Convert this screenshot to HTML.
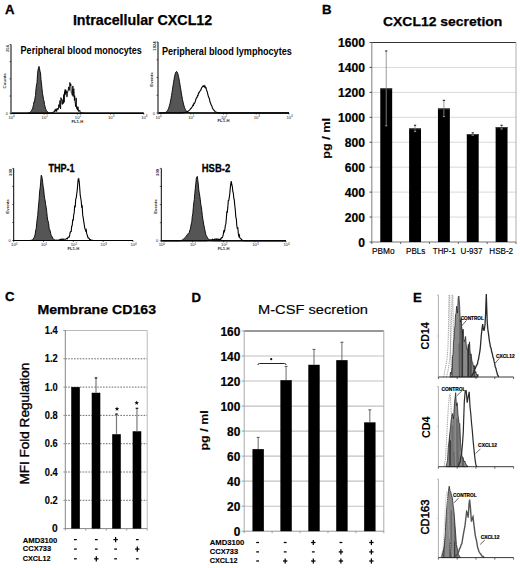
<!DOCTYPE html>
<html><head><meta charset="utf-8"><style>
html,body{margin:0;padding:0;background:#fff;}
svg{display:block;font-family:"Liberation Sans", sans-serif;}
</style></head><body>
<svg width="520" height="568" viewBox="0 0 520 568">
<rect width="520" height="568" fill="#fff"/>
<text x="5.00" y="13.50" font-size="13.2" font-weight="bold" fill="#000" stroke="#000" stroke-width="0.3">A</text>
<text x="72.90" y="24.70" font-size="14.2" font-weight="bold" fill="#000" textLength="139.30" lengthAdjust="spacingAndGlyphs" stroke="#000" stroke-width="0.25">Intracellular CXCL12</text>
<path d="M12.00,113.20 L12.50,113.20 L13.00,113.20 L13.50,113.20 L14.00,113.20 L14.50,113.20 L15.00,113.20 L15.50,113.20 L16.00,113.20 L16.50,113.20 L17.00,113.20 L17.50,113.20 L18.00,113.20 L18.50,113.20 L19.00,113.20 L19.50,113.20 L20.00,113.20 L20.50,113.20 L21.00,113.20 L21.50,113.20 L22.00,113.20 L22.50,113.20 L23.00,113.20 L23.50,113.20 L24.00,113.20 L24.50,113.20 L25.00,113.19 L25.50,113.19 L26.00,113.18 L26.50,113.17 L27.00,113.15 L27.50,113.11 L28.00,113.05 L28.50,112.96 L29.00,112.83 L29.50,112.64 L30.00,112.32 L30.50,111.72 L31.00,111.40 L31.50,110.61 L32.00,109.52 L32.50,109.00 L33.00,106.81 L33.50,104.53 L34.00,101.56 L34.50,101.76 L35.00,97.95 L35.50,95.41 L36.00,88.69 L36.50,84.86 L37.00,82.81 L37.50,74.31 L38.00,70.05 L38.50,67.97 L39.00,66.40 L39.50,68.44 L40.00,71.20 L40.50,72.89 L41.00,79.46 L41.50,83.94 L42.00,88.58 L42.50,93.85 L43.00,96.02 L43.50,99.51 L44.00,100.81 L44.50,104.58 L45.00,106.34 L45.50,108.37 L46.00,109.47 L46.50,110.76 L47.00,111.63 L47.50,111.81 L48.00,112.28 L48.50,112.71 L49.00,112.89 L49.50,113.01 L50.00,113.09 L50.50,113.13 L51.00,113.16 L51.50,113.18 L52.00,113.19 L52.50,113.19 L53.00,113.20 L53.50,113.20 L54.00,113.20 L54.50,113.20 L55.00,113.20 L55.50,113.20 L56.00,113.20 L56.50,113.20 L57.00,113.20 L57.50,113.20 L58.00,113.20 L58.50,113.20 L59.00,113.20 L59.50,113.20 L60.00,113.20 L60.50,113.20 L61.00,113.20 L61.50,113.20 L62.00,113.20 L62.50,113.20 L63.00,113.20 L63.50,113.20 L64.00,113.20 L64.50,113.20 L65.00,113.20 L65.50,113.20 L66.00,113.20 L66.50,113.20 L67.00,113.20 L67.50,113.20 L68.00,113.20 L68.50,113.20 L69.00,113.20 L69.50,113.20 L70.00,113.20 L70.50,113.20 L71.00,113.20 L71.50,113.20 L72.00,113.20 L72.50,113.20 L73.00,113.20 L73.50,113.20 L74.00,113.20 L74.50,113.20 L75.00,113.20 L75.50,113.20 L76.00,113.20 L76.50,113.20 L77.00,113.20 L77.50,113.20 L78.00,113.20 L78.50,113.20 L79.00,113.20 L79.50,113.20 L80.00,113.20 L80.50,113.20 L81.00,113.20 L81.50,113.20 L82.00,113.20 L82.50,113.20 L83.00,113.20 L83.50,113.20 L84.00,113.20 L84.50,113.20 L85.00,113.20 L85.50,113.20 L86.00,113.20 L86.50,113.20 L87.00,113.20 L87.50,113.20 L88.00,113.20 L88.50,113.20 L89.00,113.20 L89.50,113.20 L90.00,113.20 L90.50,113.20 L91.00,113.20 L91.50,113.20 L92.00,113.20 L92.50,113.20 L93.00,113.20 L93.50,113.20 L94.00,113.20 L94.50,113.20 L95.00,113.20 L95.50,113.20 L96.00,113.20 L96.50,113.20 L97.00,113.20 L97.50,113.20 L98.00,113.20 L98.50,113.20 L99.00,113.20 L99.50,113.20 L100.00,113.20 L100.50,113.20 L101.00,113.20 L101.50,113.20 L102.00,113.20 L102.50,113.20 L103.00,113.20 L103.50,113.20 L104.00,113.20 L104.50,113.20 L105.00,113.20 L105.50,113.20 L106.00,113.20 L106.50,113.20 L107.00,113.20 L107.50,113.20 L108.00,113.20 L108.50,113.20 L109.00,113.20 L109.50,113.20 L110.00,113.20 L110.50,113.20 L111.00,113.20 L111.50,113.20 L112.00,113.20 L112.50,113.20 L113.00,113.20 L113.50,113.20 L114.00,113.20 L114.50,113.20 L115.00,113.20 L115.50,113.20 L116.00,113.20 L116.50,113.20 L117.00,113.20 L117.50,113.20 L118.00,113.20 L118.50,113.20 L119.00,113.20 L119.50,113.20 L120.00,113.20 L120.50,113.20 L121.00,113.20 L121.50,113.20 L122.00,113.20 L122.50,113.20 L123.00,113.20 L123.50,113.20 L124.00,113.20 L124.50,113.20 L125.00,113.20 L125.50,113.20 L126.00,113.20 L126.50,113.20 L127.00,113.20 L127.50,113.20 L128.00,113.20 L128.50,113.20 L129.00,113.20 L129.50,113.20 L130.00,113.20 L130.50,113.20 L131.00,113.20 L131.50,113.20 L132.00,113.20 L132.50,113.20 L133.00,113.20 L133.50,113.20 L134.00,113.20 L134.50,113.20 L135.00,113.20 L135.50,113.20 L136.00,113.20 L136.50,113.20 L137.00,113.20 L137.50,113.20 L138.00,113.20 L138.50,113.20 L139.00,113.20 L139.50,113.20 L140.00,113.20 L140.50,113.20 L141.00,113.20 L141.50,113.20 L142.00,113.20 L142.50,113.20 L143.00,113.20 L143.50,113.20 L143.50,113.20 L12.00,113.20 Z" fill="#555" stroke="#000" stroke-width="0.9"/>
<path d="M12.00,113.20 L12.30,113.20 L12.60,113.20 L12.90,113.20 L13.20,113.20 L13.50,113.20 L13.80,113.20 L14.10,113.20 L14.40,113.20 L14.70,113.20 L15.00,113.20 L15.30,113.20 L15.60,113.20 L15.90,113.20 L16.20,113.20 L16.50,113.20 L16.80,113.20 L17.10,113.20 L17.40,113.20 L17.70,113.20 L18.00,113.20 L18.30,113.20 L18.60,113.20 L18.90,113.20 L19.20,113.20 L19.50,113.20 L19.80,113.20 L20.10,113.20 L20.40,113.20 L20.70,113.20 L21.00,113.20 L21.30,113.20 L21.60,113.20 L21.90,113.20 L22.20,113.20 L22.50,113.20 L22.80,113.20 L23.10,113.20 L23.40,113.20 L23.70,113.20 L24.00,113.20 L24.30,113.20 L24.60,113.20 L24.90,113.20 L25.20,113.20 L25.50,113.20 L25.80,113.20 L26.10,113.20 L26.40,113.20 L26.70,113.20 L27.00,113.20 L27.30,113.20 L27.60,113.20 L27.90,113.20 L28.20,113.20 L28.50,113.20 L28.80,113.20 L29.10,113.20 L29.40,113.20 L29.70,113.20 L30.00,113.20 L30.30,113.20 L30.60,113.20 L30.90,113.20 L31.20,113.20 L31.50,113.20 L31.80,113.20 L32.10,113.20 L32.40,113.20 L32.70,113.20 L33.00,113.20 L33.30,113.20 L33.60,113.20 L33.90,113.20 L34.20,113.20 L34.50,113.20 L34.80,113.20 L35.10,113.20 L35.40,113.20 L35.70,113.20 L36.00,113.20 L36.30,113.20 L36.60,113.20 L36.90,113.20 L37.20,113.20 L37.50,113.20 L37.80,113.20 L38.10,113.20 L38.40,113.20 L38.70,113.20 L39.00,113.20 L39.30,113.20 L39.60,113.20 L39.90,113.20 L40.20,113.20 L40.50,113.20 L40.80,113.20 L41.10,113.19 L41.40,113.19 L41.70,113.19 L42.00,113.19 L42.30,113.19 L42.60,113.19 L42.90,113.19 L43.20,113.18 L43.50,113.18 L43.80,113.18 L44.10,113.17 L44.40,113.17 L44.70,113.16 L45.00,113.16 L45.30,113.15 L45.60,113.14 L45.90,113.14 L46.20,113.13 L46.50,113.11 L46.80,113.10 L47.10,113.09 L47.40,113.07 L47.70,113.05 L48.00,113.03 L48.30,113.01 L48.60,112.98 L48.90,112.95 L49.20,112.92 L49.50,112.88 L49.80,112.84 L50.10,112.79 L50.40,112.74 L50.70,112.77 L51.00,112.63 L51.30,112.61 L51.60,112.52 L51.90,112.47 L52.20,112.12 L52.50,112.48 L52.80,111.90 L53.10,112.69 L53.40,112.15 L53.70,111.98 L54.00,112.24 L54.30,110.82 L54.60,111.63 L54.90,110.20 L55.20,109.43 L55.50,111.32 L55.80,108.91 L56.10,108.86 L56.40,109.06 L56.70,111.58 L57.00,109.35 L57.30,108.13 L57.60,109.61 L57.90,109.77 L58.20,108.94 L58.50,108.99 L58.80,104.65 L59.10,107.63 L59.40,106.59 L59.70,104.10 L60.00,100.47 L60.30,106.58 L60.60,108.97 L60.90,97.66 L61.20,98.73 L61.50,98.64 L61.80,101.24 L62.10,104.09 L62.40,104.43 L62.70,102.01 L63.00,99.49 L63.30,103.59 L63.60,95.34 L63.90,94.35 L64.20,102.29 L64.50,91.70 L64.80,95.28 L65.10,89.53 L65.40,94.25 L65.70,89.81 L66.00,93.33 L66.30,90.87 L66.60,91.70 L66.90,96.91 L67.20,94.97 L67.50,93.46 L67.80,90.95 L68.10,91.00 L68.40,88.61 L68.70,86.85 L69.00,89.68 L69.30,90.41 L69.60,87.92 L69.90,82.47 L70.20,84.39 L70.50,85.86 L70.80,83.90 L71.10,91.04 L71.40,92.77 L71.70,93.22 L72.00,93.36 L72.30,95.32 L72.60,88.65 L72.90,85.96 L73.20,96.54 L73.50,90.65 L73.80,88.66 L74.10,91.87 L74.40,100.35 L74.70,95.69 L75.00,101.44 L75.30,103.52 L75.60,106.65 L75.90,101.58 L76.20,97.92 L76.50,108.35 L76.80,108.43 L77.10,106.81 L77.40,110.28 L77.70,107.69 L78.00,106.76 L78.30,109.01 L78.60,111.50 L78.90,111.77 L79.20,111.41 L79.50,110.32 L79.80,110.14 L80.10,111.49 L80.40,112.45 L80.70,112.41 L81.00,112.31 L81.30,112.77 L81.60,112.84 L81.90,112.70 L82.20,112.76 L82.50,112.85 L82.80,112.92 L83.10,112.97 L83.40,113.02 L83.70,113.06 L84.00,113.09 L84.30,113.11 L84.60,113.13 L84.90,113.15 L85.20,113.16 L85.50,113.17 L85.80,113.18 L86.10,113.18 L86.40,113.19 L86.70,113.19 L87.00,113.19 L87.30,113.19 L87.60,113.20 L87.90,113.20 L88.20,113.20 L88.50,113.20 L88.80,113.20 L89.10,113.20 L89.40,113.20 L89.70,113.20 L90.00,113.20 L90.30,113.20 L90.60,113.20 L90.90,113.20 L91.20,113.20 L91.50,113.20 L91.80,113.20 L92.10,113.20 L92.40,113.20 L92.70,113.20 L93.00,113.20 L93.30,113.20 L93.60,113.20 L93.90,113.20 L94.20,113.20 L94.50,113.20 L94.80,113.20 L95.10,113.20 L95.40,113.20 L95.70,113.20 L96.00,113.20 L96.30,113.20 L96.60,113.20 L96.90,113.20 L97.20,113.20 L97.50,113.20 L97.80,113.20 L98.10,113.20 L98.40,113.20 L98.70,113.20 L99.00,113.20 L99.30,113.20 L99.60,113.20 L99.90,113.20 L100.20,113.20 L100.50,113.20 L100.80,113.20 L101.10,113.20 L101.40,113.20 L101.70,113.20 L102.00,113.20 L102.30,113.20 L102.60,113.20 L102.90,113.20 L103.20,113.20 L103.50,113.20 L103.80,113.20 L104.10,113.20 L104.40,113.20 L104.70,113.20 L105.00,113.20 L105.30,113.20 L105.60,113.20 L105.90,113.20 L106.20,113.20 L106.50,113.20 L106.80,113.20 L107.10,113.20 L107.40,113.20 L107.70,113.20 L108.00,113.20 L108.30,113.20 L108.60,113.20 L108.90,113.20 L109.20,113.20 L109.50,113.20 L109.80,113.20 L110.10,113.20 L110.40,113.20 L110.70,113.20 L111.00,113.20 L111.30,113.20 L111.60,113.20 L111.90,113.20 L112.20,113.20 L112.50,113.20 L112.80,113.20 L113.10,113.20 L113.40,113.20 L113.70,113.20 L114.00,113.20 L114.30,113.20 L114.60,113.20 L114.90,113.20 L115.20,113.20 L115.50,113.20 L115.80,113.20 L116.10,113.20 L116.40,113.20 L116.70,113.20 L117.00,113.20 L117.30,113.20 L117.60,113.20 L117.90,113.20 L118.20,113.20 L118.50,113.20 L118.80,113.20 L119.10,113.20 L119.40,113.20 L119.70,113.20 L120.00,113.20 L120.30,113.20 L120.60,113.20 L120.90,113.20 L121.20,113.20 L121.50,113.20 L121.80,113.20 L122.10,113.20 L122.40,113.20 L122.70,113.20 L123.00,113.20 L123.30,113.20 L123.60,113.20 L123.90,113.20 L124.20,113.20 L124.50,113.20 L124.80,113.20 L125.10,113.20 L125.40,113.20 L125.70,113.20 L126.00,113.20 L126.30,113.20 L126.60,113.20 L126.90,113.20 L127.20,113.20 L127.50,113.20 L127.80,113.20 L128.10,113.20 L128.40,113.20 L128.70,113.20 L129.00,113.20 L129.30,113.20 L129.60,113.20 L129.90,113.20 L130.20,113.20 L130.50,113.20 L130.80,113.20 L131.10,113.20 L131.40,113.20 L131.70,113.20 L132.00,113.20 L132.30,113.20 L132.60,113.20 L132.90,113.20 L133.20,113.20 L133.50,113.20 L133.80,113.20 L134.10,113.20 L134.40,113.20 L134.70,113.20 L135.00,113.20 L135.30,113.20 L135.60,113.20 L135.90,113.20 L136.20,113.20 L136.50,113.20 L136.80,113.20 L137.10,113.20 L137.40,113.20 L137.70,113.20 L138.00,113.20 L138.30,113.20 L138.60,113.20 L138.90,113.20 L139.20,113.20 L139.50,113.20 L139.80,113.20 L140.10,113.20 L140.40,113.20 L140.70,113.20 L141.00,113.20 L141.30,113.20 L141.60,113.20 L141.90,113.20 L142.20,113.20 L142.50,113.20 L142.80,113.20 L143.10,113.20 L143.40,113.20 L143.70,113.20" fill="none" stroke="#000" stroke-width="0.9"/>
<line x1="11.00" y1="44.50" x2="11.00" y2="113.70" stroke="#000" stroke-width="1" />
<line x1="11.00" y1="113.20" x2="143.80" y2="113.20" stroke="#000" stroke-width="1.05" />
<line x1="9.50" y1="113.20" x2="11.00" y2="113.20" stroke="#000" stroke-width="0.6" />
<line x1="9.50" y1="96.03" x2="11.00" y2="96.03" stroke="#000" stroke-width="0.6" />
<line x1="9.50" y1="78.85" x2="11.00" y2="78.85" stroke="#000" stroke-width="0.6" />
<line x1="9.50" y1="61.67" x2="11.00" y2="61.67" stroke="#000" stroke-width="0.6" />
<line x1="9.50" y1="44.50" x2="11.00" y2="44.50" stroke="#000" stroke-width="0.6" />
<line x1="11.00" y1="113.20" x2="11.00" y2="114.70" stroke="#000" stroke-width="0.6" />
<text x="8.40" y="118.80" font-size="4.2" fill="#222">10<tspan font-size="3" dy="-1.6">0</tspan></text>
<line x1="44.20" y1="113.20" x2="44.20" y2="114.70" stroke="#000" stroke-width="0.6" />
<text x="41.60" y="118.80" font-size="4.2" fill="#222">10<tspan font-size="3" dy="-1.6">1</tspan></text>
<line x1="77.40" y1="113.20" x2="77.40" y2="114.70" stroke="#000" stroke-width="0.6" />
<text x="74.80" y="118.80" font-size="4.2" fill="#222">10<tspan font-size="3" dy="-1.6">2</tspan></text>
<line x1="110.60" y1="113.20" x2="110.60" y2="114.70" stroke="#000" stroke-width="0.6" />
<text x="108.00" y="118.80" font-size="4.2" fill="#222">10<tspan font-size="3" dy="-1.6">3</tspan></text>
<line x1="143.80" y1="113.20" x2="143.80" y2="114.70" stroke="#000" stroke-width="0.6" />
<text x="141.20" y="118.80" font-size="4.2" fill="#222">10<tspan font-size="3" dy="-1.6">4</tspan></text>
<text x="77.40" y="122.60" font-size="4.2" font-weight="bold" fill="#222" text-anchor="middle" >FL1-H</text>
<text x="9.00" y="48.50" font-size="4.2" font-weight="bold" fill="#333" text-anchor="middle" transform="rotate(-90 9.00 48.50)" >256</text>
<text x="6.40" y="80.85" font-size="4.4" font-weight="bold" fill="#333" text-anchor="middle" transform="rotate(-90 6.40 80.85)" >Counts</text>
<text x="6.80" y="114.70" font-size="4" font-weight="normal" fill="#222" text-anchor="middle" >0</text>
<text x="20.60" y="53.70" font-size="11.5" font-weight="bold" fill="#000" textLength="121.30" lengthAdjust="spacingAndGlyphs" >Peripheral blood monocytes</text>
<path d="M159.00,113.00 L159.50,113.00 L160.00,113.00 L160.50,112.99 L161.00,112.99 L161.50,112.98 L162.00,112.97 L162.50,112.95 L163.00,112.92 L163.50,112.88 L164.00,112.81 L164.50,112.72 L165.00,112.57 L165.50,112.37 L166.00,112.09 L166.50,111.70 L167.00,111.18 L167.50,110.49 L168.00,109.60 L168.50,108.47 L169.00,107.08 L169.50,105.39 L170.00,103.39 L170.50,101.07 L171.00,98.44 L171.50,95.54 L172.00,92.42 L172.50,89.15 L173.00,85.85 L173.50,82.61 L174.00,79.58 L174.50,76.87 L175.00,74.61 L175.50,72.91 L176.00,71.86 L176.50,71.50 L177.00,71.82 L177.50,72.78 L178.00,74.32 L178.50,76.38 L179.00,78.86 L179.50,81.67 L180.00,84.70 L180.50,87.83 L181.00,90.96 L181.50,94.00 L182.00,96.87 L182.50,99.53 L183.00,101.92 L183.50,104.02 L184.00,105.84 L184.50,107.38 L185.00,108.66 L185.50,109.70 L186.00,110.53 L186.50,111.18 L187.00,111.68 L187.50,112.05 L188.00,112.33 L188.50,112.54 L189.00,112.69 L189.50,112.79 L190.00,112.86 L190.50,112.91 L191.00,112.94 L191.50,112.96 L192.00,112.98 L192.50,112.99 L193.00,112.99 L193.50,113.00 L194.00,113.00 L194.50,113.00 L195.00,113.00 L195.50,113.00 L196.00,113.00 L196.50,113.00 L197.00,113.00 L197.50,113.00 L198.00,113.00 L198.50,113.00 L199.00,113.00 L199.50,113.00 L200.00,113.00 L200.50,113.00 L201.00,113.00 L201.50,113.00 L202.00,113.00 L202.50,113.00 L203.00,113.00 L203.50,113.00 L204.00,113.00 L204.50,113.00 L205.00,113.00 L205.50,113.00 L206.00,113.00 L206.50,113.00 L207.00,113.00 L207.50,113.00 L208.00,113.00 L208.50,113.00 L209.00,113.00 L209.50,113.00 L210.00,113.00 L210.50,113.00 L211.00,113.00 L211.50,113.00 L212.00,113.00 L212.50,113.00 L213.00,113.00 L213.50,113.00 L214.00,113.00 L214.50,113.00 L215.00,113.00 L215.50,113.00 L216.00,113.00 L216.50,113.00 L217.00,113.00 L217.50,113.00 L218.00,113.00 L218.50,113.00 L219.00,113.00 L219.50,113.00 L220.00,113.00 L220.50,113.00 L221.00,113.00 L221.50,113.00 L222.00,113.00 L222.50,113.00 L223.00,113.00 L223.50,113.00 L224.00,113.00 L224.50,113.00 L225.00,113.00 L225.50,113.00 L226.00,113.00 L226.50,113.00 L227.00,113.00 L227.50,113.00 L228.00,113.00 L228.50,113.00 L229.00,113.00 L229.50,113.00 L230.00,113.00 L230.50,113.00 L231.00,113.00 L231.50,113.00 L232.00,113.00 L232.50,113.00 L233.00,113.00 L233.50,113.00 L234.00,113.00 L234.50,113.00 L235.00,113.00 L235.50,113.00 L236.00,113.00 L236.50,113.00 L237.00,113.00 L237.50,113.00 L238.00,113.00 L238.50,113.00 L239.00,113.00 L239.50,113.00 L240.00,113.00 L240.50,113.00 L241.00,113.00 L241.50,113.00 L242.00,113.00 L242.50,113.00 L243.00,113.00 L243.50,113.00 L244.00,113.00 L244.50,113.00 L245.00,113.00 L245.50,113.00 L246.00,113.00 L246.50,113.00 L247.00,113.00 L247.50,113.00 L248.00,113.00 L248.50,113.00 L249.00,113.00 L249.50,113.00 L250.00,113.00 L250.50,113.00 L251.00,113.00 L251.50,113.00 L252.00,113.00 L252.50,113.00 L253.00,113.00 L253.50,113.00 L254.00,113.00 L254.50,113.00 L255.00,113.00 L255.50,113.00 L256.00,113.00 L256.50,113.00 L257.00,113.00 L257.50,113.00 L258.00,113.00 L258.50,113.00 L259.00,113.00 L259.50,113.00 L260.00,113.00 L260.50,113.00 L261.00,113.00 L261.50,113.00 L262.00,113.00 L262.50,113.00 L263.00,113.00 L263.50,113.00 L264.00,113.00 L264.50,113.00 L265.00,113.00 L265.50,113.00 L266.00,113.00 L266.50,113.00 L267.00,113.00 L267.50,113.00 L268.00,113.00 L268.50,113.00 L269.00,113.00 L269.50,113.00 L270.00,113.00 L270.50,113.00 L271.00,113.00 L271.50,113.00 L272.00,113.00 L272.50,113.00 L273.00,113.00 L273.50,113.00 L274.00,113.00 L274.50,113.00 L275.00,113.00 L275.50,113.00 L276.00,113.00 L276.50,113.00 L277.00,113.00 L277.50,113.00 L278.00,113.00 L278.50,113.00 L279.00,113.00 L279.50,113.00 L280.00,113.00 L280.50,113.00 L281.00,113.00 L281.50,113.00 L282.00,113.00 L282.50,113.00 L283.00,113.00 L283.50,113.00 L284.00,113.00 L284.50,113.00 L285.00,113.00 L285.50,113.00 L286.00,113.00 L286.50,113.00 L287.00,113.00 L287.50,113.00 L288.00,113.00 L288.50,113.00 L289.00,113.00 L289.00,113.00 L159.00,113.00 Z" fill="#555" stroke="#000" stroke-width="0.9"/>
<path d="M159.00,113.00 L159.50,113.00 L160.00,113.00 L160.50,113.00 L161.00,113.00 L161.50,113.00 L162.00,113.00 L162.50,113.00 L163.00,113.00 L163.50,113.00 L164.00,113.00 L164.50,113.00 L165.00,113.00 L165.50,113.00 L166.00,113.00 L166.50,113.00 L167.00,113.00 L167.50,113.00 L168.00,113.00 L168.50,113.00 L169.00,113.00 L169.50,113.00 L170.00,113.00 L170.50,113.00 L171.00,113.00 L171.50,113.00 L172.00,113.00 L172.50,113.00 L173.00,113.00 L173.50,113.00 L174.00,113.00 L174.50,113.00 L175.00,113.00 L175.50,113.00 L176.00,112.99 L176.50,112.99 L177.00,112.99 L177.50,112.98 L178.00,112.98 L178.50,112.97 L179.00,112.96 L179.50,112.95 L180.00,112.94 L180.50,112.92 L181.00,112.90 L181.50,112.87 L182.00,112.84 L182.50,112.80 L183.00,112.75 L183.50,112.69 L184.00,112.62 L184.50,112.53 L185.00,112.40 L185.50,112.33 L186.00,112.18 L186.50,111.95 L187.00,111.85 L187.50,111.46 L188.00,111.17 L188.50,111.08 L189.00,110.49 L189.50,110.15 L190.00,109.62 L190.50,108.89 L191.00,108.25 L191.50,108.03 L192.00,106.95 L192.50,106.20 L193.00,105.13 L193.50,105.41 L194.00,103.21 L194.50,103.30 L195.00,102.40 L195.50,100.56 L196.00,99.05 L196.50,97.71 L197.00,97.49 L197.50,95.58 L198.00,95.69 L198.50,93.04 L199.00,93.01 L199.50,91.55 L200.00,91.22 L200.50,90.43 L201.00,89.65 L201.50,87.97 L202.00,87.41 L202.50,86.50 L203.00,86.08 L203.50,86.52 L204.00,85.75 L204.50,86.88 L205.00,86.20 L205.50,87.91 L206.00,87.78 L206.50,89.88 L207.00,91.23 L207.50,92.65 L208.00,95.07 L208.50,96.78 L209.00,97.79 L209.50,99.25 L210.00,102.00 L210.50,103.01 L211.00,104.51 L211.50,105.35 L212.00,106.41 L212.50,108.29 L213.00,108.86 L213.50,109.90 L214.00,110.25 L214.50,110.78 L215.00,111.34 L215.50,111.75 L216.00,112.13 L216.50,112.34 L217.00,112.50 L217.50,112.62 L218.00,112.72 L218.50,112.80 L219.00,112.86 L219.50,112.90 L220.00,112.93 L220.50,112.95 L221.00,112.97 L221.50,112.98 L222.00,112.99 L222.50,112.99 L223.00,112.99 L223.50,113.00 L224.00,113.00 L224.50,113.00 L225.00,113.00 L225.50,113.00 L226.00,113.00 L226.50,113.00 L227.00,113.00 L227.50,113.00 L228.00,113.00 L228.50,113.00 L229.00,113.00 L229.50,113.00 L230.00,113.00 L230.50,113.00 L231.00,113.00 L231.50,113.00 L232.00,113.00 L232.50,113.00 L233.00,113.00 L233.50,113.00 L234.00,113.00 L234.50,113.00 L235.00,113.00 L235.50,113.00 L236.00,113.00 L236.50,113.00 L237.00,113.00 L237.50,113.00 L238.00,113.00 L238.50,113.00 L239.00,113.00 L239.50,113.00 L240.00,113.00 L240.50,113.00 L241.00,113.00 L241.50,113.00 L242.00,113.00 L242.50,113.00 L243.00,113.00 L243.50,113.00 L244.00,113.00 L244.50,113.00 L245.00,113.00 L245.50,113.00 L246.00,113.00 L246.50,113.00 L247.00,113.00 L247.50,113.00 L248.00,113.00 L248.50,113.00 L249.00,113.00 L249.50,113.00 L250.00,113.00 L250.50,113.00 L251.00,113.00 L251.50,113.00 L252.00,113.00 L252.50,113.00 L253.00,113.00 L253.50,113.00 L254.00,113.00 L254.50,113.00 L255.00,113.00 L255.50,113.00 L256.00,113.00 L256.50,113.00 L257.00,113.00 L257.50,113.00 L258.00,113.00 L258.50,113.00 L259.00,113.00 L259.50,113.00 L260.00,113.00 L260.50,113.00 L261.00,113.00 L261.50,113.00 L262.00,113.00 L262.50,113.00 L263.00,113.00 L263.50,113.00 L264.00,113.00 L264.50,113.00 L265.00,113.00 L265.50,113.00 L266.00,113.00 L266.50,113.00 L267.00,113.00 L267.50,113.00 L268.00,113.00 L268.50,113.00 L269.00,113.00 L269.50,113.00 L270.00,113.00 L270.50,113.00 L271.00,113.00 L271.50,113.00 L272.00,113.00 L272.50,113.00 L273.00,113.00 L273.50,113.00 L274.00,113.00 L274.50,113.00 L275.00,113.00 L275.50,113.00 L276.00,113.00 L276.50,113.00 L277.00,113.00 L277.50,113.00 L278.00,113.00 L278.50,113.00 L279.00,113.00 L279.50,113.00 L280.00,113.00 L280.50,113.00 L281.00,113.00 L281.50,113.00 L282.00,113.00 L282.50,113.00 L283.00,113.00 L283.50,113.00 L284.00,113.00 L284.50,113.00 L285.00,113.00 L285.50,113.00 L286.00,113.00 L286.50,113.00 L287.00,113.00 L287.50,113.00 L288.00,113.00 L288.50,113.00 L289.00,113.00" fill="none" stroke="#000" stroke-width="1.1"/>
<line x1="158.00" y1="42.00" x2="158.00" y2="113.50" stroke="#000" stroke-width="1" />
<line x1="158.00" y1="113.00" x2="289.00" y2="113.00" stroke="#000" stroke-width="1.05" />
<line x1="156.50" y1="113.00" x2="158.00" y2="113.00" stroke="#000" stroke-width="0.6" />
<line x1="156.50" y1="95.25" x2="158.00" y2="95.25" stroke="#000" stroke-width="0.6" />
<line x1="156.50" y1="77.50" x2="158.00" y2="77.50" stroke="#000" stroke-width="0.6" />
<line x1="156.50" y1="59.75" x2="158.00" y2="59.75" stroke="#000" stroke-width="0.6" />
<line x1="156.50" y1="42.00" x2="158.00" y2="42.00" stroke="#000" stroke-width="0.6" />
<line x1="158.00" y1="113.00" x2="158.00" y2="114.50" stroke="#000" stroke-width="0.6" />
<text x="155.40" y="118.60" font-size="4.2" fill="#222">10<tspan font-size="3" dy="-1.6">0</tspan></text>
<line x1="190.75" y1="113.00" x2="190.75" y2="114.50" stroke="#000" stroke-width="0.6" />
<text x="188.15" y="118.60" font-size="4.2" fill="#222">10<tspan font-size="3" dy="-1.6">1</tspan></text>
<line x1="223.50" y1="113.00" x2="223.50" y2="114.50" stroke="#000" stroke-width="0.6" />
<text x="220.90" y="118.60" font-size="4.2" fill="#222">10<tspan font-size="3" dy="-1.6">2</tspan></text>
<line x1="256.25" y1="113.00" x2="256.25" y2="114.50" stroke="#000" stroke-width="0.6" />
<text x="253.65" y="118.60" font-size="4.2" fill="#222">10<tspan font-size="3" dy="-1.6">3</tspan></text>
<line x1="289.00" y1="113.00" x2="289.00" y2="114.50" stroke="#000" stroke-width="0.6" />
<text x="286.40" y="118.60" font-size="4.2" fill="#222">10<tspan font-size="3" dy="-1.6">4</tspan></text>
<text x="223.50" y="122.40" font-size="4.2" font-weight="bold" fill="#222" text-anchor="middle" >FL1-H</text>
<text x="156.00" y="46.00" font-size="4.2" font-weight="bold" fill="#333" text-anchor="middle" transform="rotate(-90 156.00 46.00)" >1024</text>
<text x="153.40" y="79.50" font-size="4.4" font-weight="bold" fill="#333" text-anchor="middle" transform="rotate(-90 153.40 79.50)" >Events</text>
<text x="153.80" y="114.50" font-size="4" font-weight="normal" fill="#222" text-anchor="middle" >0</text>
<text x="162.00" y="54.80" font-size="11.5" font-weight="bold" fill="#000" textLength="129.80" lengthAdjust="spacingAndGlyphs" >Peripheral blood lymphocytes</text>
<path d="M14.70,240.50 L15.20,240.50 L15.70,240.50 L16.20,240.50 L16.70,240.50 L17.20,240.50 L17.70,240.50 L18.20,240.50 L18.70,240.50 L19.20,240.50 L19.70,240.50 L20.20,240.50 L20.70,240.50 L21.20,240.50 L21.70,240.50 L22.20,240.50 L22.70,240.50 L23.20,240.50 L23.70,240.50 L24.20,240.50 L24.70,240.50 L25.20,240.50 L25.70,240.50 L26.20,240.50 L26.70,240.50 L27.20,240.50 L27.70,240.50 L28.20,240.49 L28.70,240.49 L29.20,240.48 L29.70,240.46 L30.20,240.43 L30.70,240.37 L31.20,240.28 L31.70,240.13 L32.20,239.98 L32.70,239.64 L33.20,239.02 L33.70,238.05 L34.20,237.44 L34.70,236.12 L35.20,234.09 L35.70,230.21 L36.20,228.80 L36.70,223.19 L37.20,219.00 L37.70,215.64 L38.20,209.15 L38.70,203.93 L39.20,198.43 L39.70,190.90 L40.20,187.60 L40.70,182.07 L41.20,175.21 L41.70,175.90 L42.20,178.71 L42.70,182.47 L43.20,186.91 L43.70,189.23 L44.20,195.09 L44.70,198.55 L45.20,201.01 L45.70,204.78 L46.20,207.26 L46.70,211.27 L47.20,216.28 L47.70,220.10 L48.20,221.34 L48.70,223.74 L49.20,229.19 L49.70,229.34 L50.20,231.08 L50.70,233.39 L51.20,235.57 L51.70,235.91 L52.20,237.02 L52.70,238.24 L53.20,238.55 L53.70,239.22 L54.20,239.62 L54.70,239.79 L55.20,239.99 L55.70,240.12 L56.20,240.24 L56.70,240.32 L57.20,240.37 L57.70,240.42 L58.20,240.44 L58.70,240.46 L59.20,240.48 L59.70,240.48 L60.20,240.49 L60.70,240.49 L61.20,240.50 L61.70,240.50 L62.20,240.50 L62.70,240.50 L63.20,240.50 L63.70,240.50 L64.20,240.50 L64.70,240.50 L65.20,240.50 L65.70,240.50 L66.20,240.50 L66.70,240.50 L67.20,240.50 L67.70,240.50 L68.20,240.50 L68.70,240.50 L69.20,240.50 L69.70,240.50 L70.20,240.50 L70.70,240.50 L71.20,240.50 L71.70,240.50 L72.20,240.50 L72.70,240.50 L73.20,240.50 L73.70,240.50 L74.20,240.50 L74.70,240.50 L75.20,240.50 L75.70,240.50 L76.20,240.50 L76.70,240.50 L77.20,240.50 L77.70,240.50 L78.20,240.50 L78.70,240.50 L79.20,240.50 L79.70,240.50 L80.20,240.50 L80.70,240.50 L81.20,240.50 L81.70,240.50 L82.20,240.50 L82.70,240.50 L83.20,240.50 L83.70,240.50 L84.20,240.50 L84.70,240.50 L85.20,240.50 L85.70,240.50 L86.20,240.50 L86.70,240.50 L87.20,240.50 L87.70,240.50 L88.20,240.50 L88.70,240.50 L89.20,240.50 L89.70,240.50 L90.20,240.50 L90.70,240.50 L91.20,240.50 L91.70,240.50 L92.20,240.50 L92.70,240.50 L93.20,240.50 L93.70,240.50 L94.20,240.50 L94.70,240.50 L95.20,240.50 L95.70,240.50 L96.20,240.50 L96.70,240.50 L97.20,240.50 L97.70,240.50 L98.20,240.50 L98.70,240.50 L99.20,240.50 L99.70,240.50 L100.20,240.50 L100.70,240.50 L101.20,240.50 L101.70,240.50 L102.20,240.50 L102.70,240.50 L103.20,240.50 L103.70,240.50 L104.20,240.50 L104.70,240.50 L105.20,240.50 L105.70,240.50 L106.20,240.50 L106.70,240.50 L107.20,240.50 L107.70,240.50 L108.20,240.50 L108.70,240.50 L109.20,240.50 L109.70,240.50 L110.20,240.50 L110.70,240.50 L111.20,240.50 L111.70,240.50 L112.20,240.50 L112.70,240.50 L113.20,240.50 L113.70,240.50 L114.20,240.50 L114.70,240.50 L115.20,240.50 L115.70,240.50 L116.20,240.50 L116.70,240.50 L117.20,240.50 L117.70,240.50 L118.20,240.50 L118.70,240.50 L119.20,240.50 L119.70,240.50 L120.20,240.50 L120.70,240.50 L121.20,240.50 L121.70,240.50 L122.20,240.50 L122.70,240.50 L123.20,240.50 L123.70,240.50 L124.20,240.50 L124.70,240.50 L125.20,240.50 L125.70,240.50 L126.20,240.50 L126.70,240.50 L127.20,240.50 L127.70,240.50 L128.20,240.50 L128.70,240.50 L129.20,240.50 L129.70,240.50 L130.20,240.50 L130.70,240.50 L131.20,240.50 L131.70,240.50 L132.20,240.50 L132.70,240.50 L132.70,240.50 L14.70,240.50 Z" fill="#555" stroke="#000" stroke-width="0.9"/>
<path d="M14.70,240.50 L15.20,240.50 L15.70,240.50 L16.20,240.50 L16.70,240.50 L17.20,240.50 L17.70,240.50 L18.20,240.50 L18.70,240.50 L19.20,240.50 L19.70,240.50 L20.20,240.50 L20.70,240.50 L21.20,240.50 L21.70,240.50 L22.20,240.50 L22.70,240.50 L23.20,240.50 L23.70,240.50 L24.20,240.50 L24.70,240.50 L25.20,240.50 L25.70,240.50 L26.20,240.50 L26.70,240.50 L27.20,240.50 L27.70,240.50 L28.20,240.50 L28.70,240.50 L29.20,240.50 L29.70,240.50 L30.20,240.50 L30.70,240.50 L31.20,240.50 L31.70,240.50 L32.20,240.50 L32.70,240.50 L33.20,240.50 L33.70,240.50 L34.20,240.50 L34.70,240.50 L35.20,240.50 L35.70,240.50 L36.20,240.50 L36.70,240.50 L37.20,240.50 L37.70,240.50 L38.20,240.50 L38.70,240.50 L39.20,240.50 L39.70,240.50 L40.20,240.50 L40.70,240.50 L41.20,240.50 L41.70,240.50 L42.20,240.50 L42.70,240.50 L43.20,240.50 L43.70,240.50 L44.20,240.50 L44.70,240.50 L45.20,240.50 L45.70,240.50 L46.20,240.50 L46.70,240.50 L47.20,240.50 L47.70,240.50 L48.20,240.50 L48.70,240.50 L49.20,240.50 L49.70,240.50 L50.20,240.50 L50.70,240.50 L51.20,240.50 L51.70,240.50 L52.20,240.50 L52.70,240.50 L53.20,240.49 L53.70,240.49 L54.20,240.48 L54.70,240.47 L55.20,240.46 L55.70,240.44 L56.20,240.41 L56.70,240.37 L57.20,240.31 L57.70,240.25 L58.20,240.17 L58.70,240.07 L59.20,240.02 L59.70,239.65 L60.20,239.50 L60.70,239.37 L61.20,239.31 L61.70,239.14 L62.20,239.67 L62.70,239.17 L63.20,239.43 L63.70,239.05 L64.20,239.29 L64.70,239.20 L65.20,239.21 L65.70,239.15 L66.20,238.86 L66.70,238.53 L67.20,238.87 L67.70,237.92 L68.20,237.13 L68.70,237.26 L69.20,237.09 L69.70,234.91 L70.20,232.32 L70.70,231.57 L71.20,231.55 L71.70,226.08 L72.20,225.73 L72.70,219.46 L73.20,220.65 L73.70,214.80 L74.20,212.66 L74.70,205.63 L75.20,207.23 L75.70,199.20 L76.20,198.11 L76.70,194.07 L77.20,190.46 L77.70,184.57 L78.20,179.35 L78.70,178.79 L79.20,181.58 L79.70,187.75 L80.20,194.81 L80.70,197.77 L81.20,201.01 L81.70,206.86 L82.20,206.26 L82.70,215.14 L83.20,217.62 L83.70,221.08 L84.20,224.38 L84.70,227.86 L85.20,229.39 L85.70,230.88 L86.20,229.91 L86.70,233.65 L87.20,234.87 L87.70,236.82 L88.20,238.02 L88.70,238.09 L89.20,238.54 L89.70,239.55 L90.20,239.51 L90.70,239.97 L91.20,240.05 L91.70,240.19 L92.20,240.29 L92.70,240.36 L93.20,240.41 L93.70,240.44 L94.20,240.46 L94.70,240.47 L95.20,240.48 L95.70,240.49 L96.20,240.49 L96.70,240.50 L97.20,240.50 L97.70,240.50 L98.20,240.50 L98.70,240.50 L99.20,240.50 L99.70,240.50 L100.20,240.50 L100.70,240.50 L101.20,240.50 L101.70,240.50 L102.20,240.50 L102.70,240.50 L103.20,240.50 L103.70,240.50 L104.20,240.50 L104.70,240.50 L105.20,240.50 L105.70,240.50 L106.20,240.50 L106.70,240.50 L107.20,240.50 L107.70,240.50 L108.20,240.50 L108.70,240.50 L109.20,240.50 L109.70,240.50 L110.20,240.50 L110.70,240.50 L111.20,240.50 L111.70,240.50 L112.20,240.50 L112.70,240.50 L113.20,240.50 L113.70,240.50 L114.20,240.50 L114.70,240.50 L115.20,240.50 L115.70,240.50 L116.20,240.50 L116.70,240.50 L117.20,240.50 L117.70,240.50 L118.20,240.50 L118.70,240.50 L119.20,240.50 L119.70,240.50 L120.20,240.50 L120.70,240.50 L121.20,240.50 L121.70,240.50 L122.20,240.50 L122.70,240.50 L123.20,240.50 L123.70,240.50 L124.20,240.50 L124.70,240.50 L125.20,240.50 L125.70,240.50 L126.20,240.50 L126.70,240.50 L127.20,240.50 L127.70,240.50 L128.20,240.50 L128.70,240.50 L129.20,240.50 L129.70,240.50 L130.20,240.50 L130.70,240.50 L131.20,240.50 L131.70,240.50 L132.20,240.50 L132.70,240.50" fill="none" stroke="#000" stroke-width="1.1"/>
<line x1="13.70" y1="168.40" x2="13.70" y2="241.00" stroke="#000" stroke-width="1" />
<line x1="13.70" y1="240.50" x2="133.00" y2="240.50" stroke="#000" stroke-width="1.05" />
<line x1="12.20" y1="240.50" x2="13.70" y2="240.50" stroke="#000" stroke-width="0.6" />
<line x1="12.20" y1="222.47" x2="13.70" y2="222.47" stroke="#000" stroke-width="0.6" />
<line x1="12.20" y1="204.45" x2="13.70" y2="204.45" stroke="#000" stroke-width="0.6" />
<line x1="12.20" y1="186.43" x2="13.70" y2="186.43" stroke="#000" stroke-width="0.6" />
<line x1="12.20" y1="168.40" x2="13.70" y2="168.40" stroke="#000" stroke-width="0.6" />
<line x1="13.70" y1="240.50" x2="13.70" y2="242.00" stroke="#000" stroke-width="0.6" />
<text x="11.10" y="246.10" font-size="4.2" fill="#222">10<tspan font-size="3" dy="-1.6">0</tspan></text>
<line x1="43.52" y1="240.50" x2="43.52" y2="242.00" stroke="#000" stroke-width="0.6" />
<text x="40.92" y="246.10" font-size="4.2" fill="#222">10<tspan font-size="3" dy="-1.6">1</tspan></text>
<line x1="73.35" y1="240.50" x2="73.35" y2="242.00" stroke="#000" stroke-width="0.6" />
<text x="70.75" y="246.10" font-size="4.2" fill="#222">10<tspan font-size="3" dy="-1.6">2</tspan></text>
<line x1="103.17" y1="240.50" x2="103.17" y2="242.00" stroke="#000" stroke-width="0.6" />
<text x="100.58" y="246.10" font-size="4.2" fill="#222">10<tspan font-size="3" dy="-1.6">3</tspan></text>
<line x1="133.00" y1="240.50" x2="133.00" y2="242.00" stroke="#000" stroke-width="0.6" />
<text x="130.40" y="246.10" font-size="4.2" fill="#222">10<tspan font-size="3" dy="-1.6">4</tspan></text>
<text x="73.35" y="249.90" font-size="4.2" font-weight="bold" fill="#222" text-anchor="middle" >FL1-H</text>
<text x="11.70" y="172.40" font-size="4.2" font-weight="bold" fill="#333" text-anchor="middle" transform="rotate(-90 11.70 172.40)" >300</text>
<text x="9.10" y="206.45" font-size="4.4" font-weight="bold" fill="#333" text-anchor="middle" transform="rotate(-90 9.10 206.45)" >Events</text>
<text x="9.50" y="242.00" font-size="4" font-weight="normal" fill="#222" text-anchor="middle" >0</text>
<text x="48.40" y="171.80" font-size="11.8" font-weight="bold" fill="#000" textLength="26.30" lengthAdjust="spacingAndGlyphs" stroke="#000" stroke-width="0.3">THP-1</text>
<path d="M162.30,240.80 L162.80,240.80 L163.30,240.80 L163.80,240.80 L164.30,240.80 L164.80,240.80 L165.30,240.80 L165.80,240.80 L166.30,240.80 L166.80,240.80 L167.30,240.80 L167.80,240.80 L168.30,240.80 L168.80,240.80 L169.30,240.80 L169.80,240.80 L170.30,240.80 L170.80,240.80 L171.30,240.80 L171.80,240.80 L172.30,240.80 L172.80,240.80 L173.30,240.80 L173.80,240.80 L174.30,240.80 L174.80,240.80 L175.30,240.80 L175.80,240.80 L176.30,240.80 L176.80,240.80 L177.30,240.79 L177.80,240.78 L178.30,240.77 L178.80,240.75 L179.30,240.73 L179.80,240.68 L180.30,240.61 L180.80,240.52 L181.30,240.39 L181.80,240.22 L182.30,240.02 L182.80,239.75 L183.30,239.19 L183.80,238.86 L184.30,238.31 L184.80,237.84 L185.30,237.38 L185.80,236.52 L186.30,236.04 L186.80,235.22 L187.30,234.72 L187.80,233.84 L188.30,233.67 L188.80,233.31 L189.30,232.36 L189.80,229.96 L190.30,229.38 L190.80,226.26 L191.30,223.66 L191.80,221.58 L192.30,216.42 L192.80,213.76 L193.30,207.60 L193.80,202.97 L194.30,199.44 L194.80,193.47 L195.30,188.20 L195.80,184.00 L196.30,178.27 L196.80,177.06 L197.30,176.39 L197.80,180.20 L198.30,183.98 L198.80,190.02 L199.30,193.23 L199.80,196.15 L200.30,199.75 L200.80,204.30 L201.30,206.66 L201.80,210.52 L202.30,215.30 L202.80,219.12 L203.30,221.37 L203.80,224.90 L204.30,227.10 L204.80,229.84 L205.30,232.10 L205.80,234.37 L206.30,235.60 L206.80,236.46 L207.30,237.28 L207.80,238.28 L208.30,238.79 L208.80,239.37 L209.30,239.68 L209.80,240.03 L210.30,240.29 L210.80,240.43 L211.30,240.54 L211.80,240.62 L212.30,240.68 L212.80,240.72 L213.30,240.75 L213.80,240.77 L214.30,240.78 L214.80,240.79 L215.30,240.79 L215.80,240.79 L216.30,240.80 L216.80,240.80 L217.30,240.80 L217.80,240.80 L218.30,240.80 L218.80,240.80 L219.30,240.80 L219.80,240.80 L220.30,240.80 L220.80,240.80 L221.30,240.80 L221.80,240.80 L222.30,240.80 L222.80,240.80 L223.30,240.80 L223.80,240.80 L224.30,240.80 L224.80,240.80 L225.30,240.80 L225.80,240.80 L226.30,240.80 L226.80,240.80 L227.30,240.80 L227.80,240.80 L228.30,240.80 L228.80,240.80 L229.30,240.80 L229.80,240.80 L230.30,240.80 L230.80,240.80 L231.30,240.80 L231.80,240.80 L232.30,240.80 L232.80,240.80 L233.30,240.80 L233.80,240.80 L234.30,240.80 L234.80,240.80 L235.30,240.80 L235.80,240.80 L236.30,240.80 L236.80,240.80 L237.30,240.80 L237.80,240.80 L238.30,240.80 L238.80,240.80 L239.30,240.80 L239.80,240.80 L240.30,240.80 L240.80,240.80 L241.30,240.80 L241.80,240.80 L242.30,240.80 L242.80,240.80 L243.30,240.80 L243.80,240.80 L244.30,240.80 L244.80,240.80 L245.30,240.80 L245.80,240.80 L246.30,240.80 L246.80,240.80 L247.30,240.80 L247.80,240.80 L248.30,240.80 L248.80,240.80 L249.30,240.80 L249.80,240.80 L250.30,240.80 L250.80,240.80 L251.30,240.80 L251.80,240.80 L252.30,240.80 L252.80,240.80 L253.30,240.80 L253.80,240.80 L254.30,240.80 L254.80,240.80 L255.30,240.80 L255.80,240.80 L256.30,240.80 L256.80,240.80 L257.30,240.80 L257.80,240.80 L258.30,240.80 L258.80,240.80 L259.30,240.80 L259.80,240.80 L260.30,240.80 L260.80,240.80 L261.30,240.80 L261.80,240.80 L262.30,240.80 L262.80,240.80 L263.30,240.80 L263.80,240.80 L264.30,240.80 L264.80,240.80 L265.30,240.80 L265.80,240.80 L266.30,240.80 L266.80,240.80 L267.30,240.80 L267.80,240.80 L268.30,240.80 L268.80,240.80 L269.30,240.80 L269.80,240.80 L270.30,240.80 L270.80,240.80 L271.30,240.80 L271.80,240.80 L272.30,240.80 L272.80,240.80 L273.30,240.80 L273.80,240.80 L274.30,240.80 L274.80,240.80 L275.30,240.80 L275.80,240.80 L276.30,240.80 L276.80,240.80 L277.30,240.80 L277.80,240.80 L278.30,240.80 L278.80,240.80 L279.30,240.80 L279.80,240.80 L280.30,240.80 L280.80,240.80 L281.30,240.80 L281.80,240.80 L282.30,240.80 L282.80,240.80 L283.30,240.80 L283.80,240.80 L284.30,240.80 L284.80,240.80 L285.30,240.80 L285.80,240.80 L285.80,240.80 L162.30,240.80 Z" fill="#555" stroke="#000" stroke-width="0.9"/>
<path d="M162.30,240.80 L162.80,240.80 L163.30,240.80 L163.80,240.80 L164.30,240.80 L164.80,240.80 L165.30,240.80 L165.80,240.80 L166.30,240.80 L166.80,240.80 L167.30,240.80 L167.80,240.80 L168.30,240.80 L168.80,240.80 L169.30,240.80 L169.80,240.80 L170.30,240.80 L170.80,240.80 L171.30,240.80 L171.80,240.80 L172.30,240.80 L172.80,240.80 L173.30,240.80 L173.80,240.80 L174.30,240.80 L174.80,240.80 L175.30,240.80 L175.80,240.80 L176.30,240.80 L176.80,240.80 L177.30,240.80 L177.80,240.80 L178.30,240.80 L178.80,240.80 L179.30,240.80 L179.80,240.80 L180.30,240.80 L180.80,240.80 L181.30,240.80 L181.80,240.80 L182.30,240.80 L182.80,240.80 L183.30,240.80 L183.80,240.80 L184.30,240.80 L184.80,240.80 L185.30,240.80 L185.80,240.80 L186.30,240.80 L186.80,240.80 L187.30,240.80 L187.80,240.80 L188.30,240.80 L188.80,240.80 L189.30,240.80 L189.80,240.80 L190.30,240.80 L190.80,240.80 L191.30,240.80 L191.80,240.80 L192.30,240.80 L192.80,240.80 L193.30,240.80 L193.80,240.80 L194.30,240.80 L194.80,240.80 L195.30,240.80 L195.80,240.80 L196.30,240.80 L196.80,240.80 L197.30,240.80 L197.80,240.80 L198.30,240.80 L198.80,240.80 L199.30,240.80 L199.80,240.80 L200.30,240.80 L200.80,240.80 L201.30,240.80 L201.80,240.79 L202.30,240.79 L202.80,240.79 L203.30,240.78 L203.80,240.77 L204.30,240.76 L204.80,240.74 L205.30,240.72 L205.80,240.69 L206.30,240.66 L206.80,240.62 L207.30,240.56 L207.80,240.50 L208.30,240.43 L208.80,240.35 L209.30,240.13 L209.80,240.19 L210.30,240.01 L210.80,239.75 L211.30,239.98 L211.80,239.70 L212.30,239.55 L212.80,239.16 L213.30,239.81 L213.80,239.73 L214.30,239.48 L214.80,239.00 L215.30,238.98 L215.80,239.63 L216.30,238.97 L216.80,239.36 L217.30,239.05 L217.80,239.13 L218.30,239.82 L218.80,239.13 L219.30,239.47 L219.80,239.64 L220.30,239.16 L220.80,239.31 L221.30,237.94 L221.80,237.56 L222.30,237.70 L222.80,236.45 L223.30,234.12 L223.80,230.95 L224.30,231.56 L224.80,230.05 L225.30,225.67 L225.80,224.15 L226.30,218.99 L226.80,211.97 L227.30,212.14 L227.80,207.43 L228.30,200.67 L228.80,200.36 L229.30,197.45 L229.80,193.41 L230.30,187.87 L230.80,183.70 L231.30,181.21 L231.80,184.78 L232.30,186.30 L232.80,191.50 L233.30,193.04 L233.80,198.25 L234.30,200.11 L234.80,205.57 L235.30,209.94 L235.80,216.80 L236.30,218.76 L236.80,225.47 L237.30,228.72 L237.80,227.19 L238.30,233.64 L238.80,236.05 L239.30,235.07 L239.80,237.79 L240.30,238.45 L240.80,238.83 L241.30,239.15 L241.80,240.17 L242.30,240.16 L242.80,240.42 L243.30,240.55 L243.80,240.65 L244.30,240.70 L244.80,240.74 L245.30,240.77 L245.80,240.78 L246.30,240.79 L246.80,240.79 L247.30,240.80 L247.80,240.80 L248.30,240.80 L248.80,240.80 L249.30,240.80 L249.80,240.80 L250.30,240.80 L250.80,240.80 L251.30,240.80 L251.80,240.80 L252.30,240.80 L252.80,240.80 L253.30,240.80 L253.80,240.80 L254.30,240.80 L254.80,240.80 L255.30,240.80 L255.80,240.80 L256.30,240.80 L256.80,240.80 L257.30,240.80 L257.80,240.80 L258.30,240.80 L258.80,240.80 L259.30,240.80 L259.80,240.80 L260.30,240.80 L260.80,240.80 L261.30,240.80 L261.80,240.80 L262.30,240.80 L262.80,240.80 L263.30,240.80 L263.80,240.80 L264.30,240.80 L264.80,240.80 L265.30,240.80 L265.80,240.80 L266.30,240.80 L266.80,240.80 L267.30,240.80 L267.80,240.80 L268.30,240.80 L268.80,240.80 L269.30,240.80 L269.80,240.80 L270.30,240.80 L270.80,240.80 L271.30,240.80 L271.80,240.80 L272.30,240.80 L272.80,240.80 L273.30,240.80 L273.80,240.80 L274.30,240.80 L274.80,240.80 L275.30,240.80 L275.80,240.80 L276.30,240.80 L276.80,240.80 L277.30,240.80 L277.80,240.80 L278.30,240.80 L278.80,240.80 L279.30,240.80 L279.80,240.80 L280.30,240.80 L280.80,240.80 L281.30,240.80 L281.80,240.80 L282.30,240.80 L282.80,240.80 L283.30,240.80 L283.80,240.80 L284.30,240.80 L284.80,240.80 L285.30,240.80 L285.80,240.80" fill="none" stroke="#000" stroke-width="1.1"/>
<line x1="161.30" y1="168.40" x2="161.30" y2="241.30" stroke="#000" stroke-width="1" />
<line x1="161.30" y1="240.80" x2="286.00" y2="240.80" stroke="#000" stroke-width="1.05" />
<line x1="159.80" y1="240.80" x2="161.30" y2="240.80" stroke="#000" stroke-width="0.6" />
<line x1="159.80" y1="222.70" x2="161.30" y2="222.70" stroke="#000" stroke-width="0.6" />
<line x1="159.80" y1="204.60" x2="161.30" y2="204.60" stroke="#000" stroke-width="0.6" />
<line x1="159.80" y1="186.50" x2="161.30" y2="186.50" stroke="#000" stroke-width="0.6" />
<line x1="159.80" y1="168.40" x2="161.30" y2="168.40" stroke="#000" stroke-width="0.6" />
<line x1="161.30" y1="240.80" x2="161.30" y2="242.30" stroke="#000" stroke-width="0.6" />
<text x="158.70" y="246.40" font-size="4.2" fill="#222">10<tspan font-size="3" dy="-1.6">0</tspan></text>
<line x1="192.48" y1="240.80" x2="192.48" y2="242.30" stroke="#000" stroke-width="0.6" />
<text x="189.88" y="246.40" font-size="4.2" fill="#222">10<tspan font-size="3" dy="-1.6">1</tspan></text>
<line x1="223.65" y1="240.80" x2="223.65" y2="242.30" stroke="#000" stroke-width="0.6" />
<text x="221.05" y="246.40" font-size="4.2" fill="#222">10<tspan font-size="3" dy="-1.6">2</tspan></text>
<line x1="254.82" y1="240.80" x2="254.82" y2="242.30" stroke="#000" stroke-width="0.6" />
<text x="252.22" y="246.40" font-size="4.2" fill="#222">10<tspan font-size="3" dy="-1.6">3</tspan></text>
<line x1="286.00" y1="240.80" x2="286.00" y2="242.30" stroke="#000" stroke-width="0.6" />
<text x="283.40" y="246.40" font-size="4.2" fill="#222">10<tspan font-size="3" dy="-1.6">4</tspan></text>
<text x="223.65" y="250.20" font-size="4.2" font-weight="bold" fill="#222" text-anchor="middle" >FL1-H</text>
<text x="159.30" y="172.40" font-size="4.2" font-weight="bold" fill="#333" text-anchor="middle" transform="rotate(-90 159.30 172.40)" >300</text>
<text x="156.70" y="206.60" font-size="4.4" font-weight="bold" fill="#333" text-anchor="middle" transform="rotate(-90 156.70 206.60)" >Events</text>
<text x="157.10" y="242.30" font-size="4" font-weight="normal" fill="#222" text-anchor="middle" >0</text>
<text x="201.70" y="171.80" font-size="11.8" font-weight="bold" fill="#000" textLength="28.50" lengthAdjust="spacingAndGlyphs" stroke="#000" stroke-width="0.3">HSB-2</text>
<text x="322.00" y="13.50" font-size="13.2" font-weight="bold" fill="#000" stroke="#000" stroke-width="0.3">B</text>
<text x="383.00" y="25.80" font-size="13" font-weight="bold" fill="#000" textLength="119.30" lengthAdjust="spacingAndGlyphs" stroke="#000" stroke-width="0.25">CXCL12 secretion</text>
<line x1="371.80" y1="217.06" x2="516.00" y2="217.06" stroke="#d9d9d9" stroke-width="1" />
<line x1="371.80" y1="192.12" x2="516.00" y2="192.12" stroke="#d9d9d9" stroke-width="1" />
<line x1="371.80" y1="167.19" x2="516.00" y2="167.19" stroke="#d9d9d9" stroke-width="1" />
<line x1="371.80" y1="142.25" x2="516.00" y2="142.25" stroke="#d9d9d9" stroke-width="1" />
<line x1="371.80" y1="117.31" x2="516.00" y2="117.31" stroke="#d9d9d9" stroke-width="1" />
<line x1="371.80" y1="92.38" x2="516.00" y2="92.38" stroke="#d9d9d9" stroke-width="1" />
<line x1="371.80" y1="67.44" x2="516.00" y2="67.44" stroke="#d9d9d9" stroke-width="1" />
<line x1="371.80" y1="42.50" x2="516.00" y2="42.50" stroke="#333" stroke-width="1" />
<line x1="516.00" y1="42.50" x2="516.00" y2="242.00" stroke="#b0b0b0" stroke-width="1" />
<line x1="371.80" y1="42.00" x2="371.80" y2="242.50" stroke="#8a8a8a" stroke-width="1.1" />
<line x1="371.80" y1="242.00" x2="516.00" y2="242.00" stroke="#777" stroke-width="1.1" />
<line x1="369.60" y1="242.00" x2="371.80" y2="242.00" stroke="#333" stroke-width="0.9" />
<text x="364.90" y="246.50" font-size="12.1" font-weight="bold" fill="#000" text-anchor="end" stroke="#000" stroke-width="0.2">0</text>
<line x1="369.60" y1="217.06" x2="371.80" y2="217.06" stroke="#333" stroke-width="0.9" />
<text x="364.90" y="221.56" font-size="12.1" font-weight="bold" fill="#000" text-anchor="end" stroke="#000" stroke-width="0.2">200</text>
<line x1="369.60" y1="192.12" x2="371.80" y2="192.12" stroke="#333" stroke-width="0.9" />
<text x="364.90" y="196.62" font-size="12.1" font-weight="bold" fill="#000" text-anchor="end" stroke="#000" stroke-width="0.2">400</text>
<line x1="369.60" y1="167.19" x2="371.80" y2="167.19" stroke="#333" stroke-width="0.9" />
<text x="364.90" y="171.69" font-size="12.1" font-weight="bold" fill="#000" text-anchor="end" stroke="#000" stroke-width="0.2">600</text>
<line x1="369.60" y1="142.25" x2="371.80" y2="142.25" stroke="#333" stroke-width="0.9" />
<text x="364.90" y="146.75" font-size="12.1" font-weight="bold" fill="#000" text-anchor="end" stroke="#000" stroke-width="0.2">800</text>
<line x1="369.60" y1="117.31" x2="371.80" y2="117.31" stroke="#333" stroke-width="0.9" />
<text x="364.90" y="121.81" font-size="12.1" font-weight="bold" fill="#000" text-anchor="end" stroke="#000" stroke-width="0.2">1000</text>
<line x1="369.60" y1="92.38" x2="371.80" y2="92.38" stroke="#333" stroke-width="0.9" />
<text x="364.90" y="96.88" font-size="12.1" font-weight="bold" fill="#000" text-anchor="end" stroke="#000" stroke-width="0.2">1200</text>
<line x1="369.60" y1="67.44" x2="371.80" y2="67.44" stroke="#333" stroke-width="0.9" />
<text x="364.90" y="71.94" font-size="12.1" font-weight="bold" fill="#000" text-anchor="end" stroke="#000" stroke-width="0.2">1400</text>
<line x1="369.60" y1="42.50" x2="371.80" y2="42.50" stroke="#333" stroke-width="0.9" />
<text x="364.90" y="47.00" font-size="12.1" font-weight="bold" fill="#000" text-anchor="end" stroke="#000" stroke-width="0.2">1600</text>
<line x1="371.80" y1="242.00" x2="371.80" y2="244.00" stroke="#555" stroke-width="0.9" />
<line x1="400.64" y1="242.00" x2="400.64" y2="244.00" stroke="#555" stroke-width="0.9" />
<line x1="429.48" y1="242.00" x2="429.48" y2="244.00" stroke="#555" stroke-width="0.9" />
<line x1="458.32" y1="242.00" x2="458.32" y2="244.00" stroke="#555" stroke-width="0.9" />
<line x1="487.16" y1="242.00" x2="487.16" y2="244.00" stroke="#555" stroke-width="0.9" />
<line x1="516.00" y1="242.00" x2="516.00" y2="244.00" stroke="#555" stroke-width="0.9" />
<rect x="380.27" y="88.38" width="11.90" height="153.62" fill="#000" />
<line x1="380.27" y1="88.88" x2="392.17" y2="88.88" stroke="#444" stroke-width="1" />
<line x1="386.22" y1="50.98" x2="386.22" y2="88.38" stroke="#9a9a9a" stroke-width="1" />
<line x1="386.22" y1="89.38" x2="386.22" y2="125.79" stroke="#777" stroke-width="1" />
<line x1="385.12" y1="50.98" x2="387.32" y2="50.98" stroke="#222" stroke-width="1.1" />
<line x1="385.12" y1="125.79" x2="387.32" y2="125.79" stroke="#888" stroke-width="1.1" />
<text x="372.00" y="253.60" font-size="8.4" font-weight="normal" fill="#000" textLength="22.60" lengthAdjust="spacingAndGlyphs" stroke="#000" stroke-width="0.15">PBMo</text>
<rect x="409.11" y="128.41" width="11.90" height="113.59" fill="#000" />
<line x1="409.11" y1="128.91" x2="421.01" y2="128.91" stroke="#444" stroke-width="1" />
<line x1="415.06" y1="125.29" x2="415.06" y2="128.41" stroke="#9a9a9a" stroke-width="1" />
<line x1="415.06" y1="129.41" x2="415.06" y2="131.53" stroke="#777" stroke-width="1" />
<line x1="413.96" y1="125.29" x2="416.16" y2="125.29" stroke="#222" stroke-width="1.1" />
<line x1="413.96" y1="131.53" x2="416.16" y2="131.53" stroke="#888" stroke-width="1.1" />
<text x="406.00" y="253.60" font-size="8.4" font-weight="normal" fill="#000" textLength="19.40" lengthAdjust="spacingAndGlyphs" stroke="#000" stroke-width="0.15">PBLs</text>
<rect x="437.95" y="108.46" width="11.90" height="133.54" fill="#000" />
<line x1="437.95" y1="108.96" x2="449.85" y2="108.96" stroke="#444" stroke-width="1" />
<line x1="443.90" y1="100.35" x2="443.90" y2="108.46" stroke="#9a9a9a" stroke-width="1" />
<line x1="443.90" y1="109.46" x2="443.90" y2="116.56" stroke="#777" stroke-width="1" />
<line x1="442.80" y1="100.35" x2="445.00" y2="100.35" stroke="#222" stroke-width="1.1" />
<line x1="442.80" y1="116.56" x2="445.00" y2="116.56" stroke="#888" stroke-width="1.1" />
<text x="432.80" y="253.60" font-size="8.4" font-weight="normal" fill="#000" textLength="22.90" lengthAdjust="spacingAndGlyphs" stroke="#000" stroke-width="0.15">THP-1</text>
<rect x="466.79" y="134.02" width="11.90" height="107.98" fill="#000" />
<line x1="466.79" y1="134.52" x2="478.69" y2="134.52" stroke="#444" stroke-width="1" />
<line x1="472.74" y1="132.77" x2="472.74" y2="134.02" stroke="#9a9a9a" stroke-width="1" />
<line x1="472.74" y1="135.02" x2="472.74" y2="135.27" stroke="#777" stroke-width="1" />
<line x1="471.64" y1="132.77" x2="473.84" y2="132.77" stroke="#222" stroke-width="1.1" />
<line x1="471.64" y1="135.27" x2="473.84" y2="135.27" stroke="#888" stroke-width="1.1" />
<text x="460.60" y="253.60" font-size="8.4" font-weight="normal" fill="#000" textLength="22.00" lengthAdjust="spacingAndGlyphs" stroke="#000" stroke-width="0.15">U-937</text>
<rect x="495.63" y="127.16" width="11.90" height="114.84" fill="#000" />
<line x1="495.63" y1="127.66" x2="507.53" y2="127.66" stroke="#444" stroke-width="1" />
<line x1="501.58" y1="125.29" x2="501.58" y2="127.16" stroke="#9a9a9a" stroke-width="1" />
<line x1="501.58" y1="128.16" x2="501.58" y2="129.03" stroke="#777" stroke-width="1" />
<line x1="500.48" y1="125.29" x2="502.68" y2="125.29" stroke="#222" stroke-width="1.1" />
<line x1="500.48" y1="129.03" x2="502.68" y2="129.03" stroke="#888" stroke-width="1.1" />
<text x="489.30" y="253.60" font-size="8.4" font-weight="normal" fill="#000" textLength="23.80" lengthAdjust="spacingAndGlyphs" stroke="#000" stroke-width="0.15">HSB-2</text>
<text x="329.80" y="138.40" font-size="11.6" font-weight="bold" fill="#000" text-anchor="middle" textLength="40.60" lengthAdjust="spacingAndGlyphs" transform="rotate(-90 329.80 138.40)" stroke="#000" stroke-width="0.1">pg / ml</text>
<text x="5.00" y="301.20" font-size="13.2" font-weight="bold" fill="#000" stroke="#000" stroke-width="0.3">C</text>
<text x="37.40" y="313.50" font-size="13.2" font-weight="bold" fill="#000" textLength="118.60" lengthAdjust="spacingAndGlyphs" stroke="#000" stroke-width="0.25">Membrane CD163</text>
<line x1="65.30" y1="500.30" x2="147.20" y2="500.30" stroke="#444" stroke-width="0.8" stroke-dasharray="1.6,1.3"/>
<line x1="65.30" y1="472.00" x2="147.20" y2="472.00" stroke="#444" stroke-width="0.8" stroke-dasharray="1.6,1.3"/>
<line x1="65.30" y1="443.70" x2="147.20" y2="443.70" stroke="#444" stroke-width="0.8" stroke-dasharray="1.6,1.3"/>
<line x1="65.30" y1="415.40" x2="147.20" y2="415.40" stroke="#444" stroke-width="0.8" stroke-dasharray="1.6,1.3"/>
<line x1="65.30" y1="387.10" x2="147.20" y2="387.10" stroke="#444" stroke-width="0.8" stroke-dasharray="1.6,1.3"/>
<line x1="65.30" y1="358.80" x2="147.20" y2="358.80" stroke="#444" stroke-width="0.8" stroke-dasharray="1.6,1.3"/>
<line x1="65.30" y1="330.50" x2="147.20" y2="330.50" stroke="#bbb" stroke-width="1" />
<line x1="147.20" y1="330.50" x2="147.20" y2="528.60" stroke="#bbb" stroke-width="1" />
<line x1="65.30" y1="330.00" x2="65.30" y2="529.10" stroke="#888" stroke-width="1" />
<line x1="65.30" y1="528.60" x2="147.20" y2="528.60" stroke="#888" stroke-width="1" />
<line x1="63.30" y1="528.60" x2="65.30" y2="528.60" stroke="#888" stroke-width="0.8" />
<text x="57.70" y="532.20" font-size="10.2" font-weight="bold" fill="#000" text-anchor="end" stroke="#000" stroke-width="0.15">0</text>
<line x1="63.30" y1="500.30" x2="65.30" y2="500.30" stroke="#888" stroke-width="0.8" />
<text x="57.70" y="503.90" font-size="10.2" font-weight="bold" fill="#000" text-anchor="end" textLength="12.90" lengthAdjust="spacingAndGlyphs" stroke="#000" stroke-width="0.15">0.2</text>
<line x1="63.30" y1="472.00" x2="65.30" y2="472.00" stroke="#888" stroke-width="0.8" />
<text x="57.70" y="475.60" font-size="10.2" font-weight="bold" fill="#000" text-anchor="end" textLength="12.90" lengthAdjust="spacingAndGlyphs" stroke="#000" stroke-width="0.15">0.4</text>
<line x1="63.30" y1="443.70" x2="65.30" y2="443.70" stroke="#888" stroke-width="0.8" />
<text x="57.70" y="447.30" font-size="10.2" font-weight="bold" fill="#000" text-anchor="end" textLength="12.90" lengthAdjust="spacingAndGlyphs" stroke="#000" stroke-width="0.15">0.6</text>
<line x1="63.30" y1="415.40" x2="65.30" y2="415.40" stroke="#888" stroke-width="0.8" />
<text x="57.70" y="419.00" font-size="10.2" font-weight="bold" fill="#000" text-anchor="end" textLength="12.90" lengthAdjust="spacingAndGlyphs" stroke="#000" stroke-width="0.15">0.8</text>
<line x1="63.30" y1="387.10" x2="65.30" y2="387.10" stroke="#888" stroke-width="0.8" />
<text x="57.70" y="390.70" font-size="10.2" font-weight="bold" fill="#000" text-anchor="end" textLength="12.90" lengthAdjust="spacingAndGlyphs" stroke="#000" stroke-width="0.15">1.0</text>
<line x1="63.30" y1="358.80" x2="65.30" y2="358.80" stroke="#888" stroke-width="0.8" />
<text x="57.70" y="362.40" font-size="10.2" font-weight="bold" fill="#000" text-anchor="end" textLength="12.90" lengthAdjust="spacingAndGlyphs" stroke="#000" stroke-width="0.15">1.2</text>
<line x1="63.30" y1="330.50" x2="65.30" y2="330.50" stroke="#888" stroke-width="0.8" />
<text x="57.70" y="334.10" font-size="10.2" font-weight="bold" fill="#000" text-anchor="end" textLength="12.90" lengthAdjust="spacingAndGlyphs" stroke="#000" stroke-width="0.15">1.4</text>
<line x1="65.30" y1="528.60" x2="65.30" y2="530.60" stroke="#888" stroke-width="0.8" />
<line x1="85.77" y1="528.60" x2="85.77" y2="530.60" stroke="#888" stroke-width="0.8" />
<line x1="106.25" y1="528.60" x2="106.25" y2="530.60" stroke="#888" stroke-width="0.8" />
<line x1="126.72" y1="528.60" x2="126.72" y2="530.60" stroke="#888" stroke-width="0.8" />
<line x1="147.20" y1="528.60" x2="147.20" y2="530.60" stroke="#888" stroke-width="0.8" />
<rect x="71.24" y="387.10" width="8.60" height="141.50" fill="#000" />
<rect x="91.71" y="392.76" width="8.60" height="135.84" fill="#000" />
<line x1="96.01" y1="377.90" x2="96.01" y2="392.76" stroke="#7a7a7a" stroke-width="1.2" />
<line x1="94.71" y1="377.90" x2="97.31" y2="377.90" stroke="#222" stroke-width="1.3" />
<rect x="112.19" y="434.22" width="8.60" height="94.38" fill="#000" />
<line x1="116.49" y1="414.06" x2="116.49" y2="434.22" stroke="#7a7a7a" stroke-width="1.2" />
<line x1="115.19" y1="414.06" x2="117.79" y2="414.06" stroke="#222" stroke-width="1.3" />
<path d="M117.00,406.50 L117.59,408.08 L119.28,408.16 L117.96,409.21 L118.41,410.84 L117.00,409.91 L115.59,410.84 L116.04,409.21 L114.72,408.16 L116.41,408.08 Z" fill="#111"/>
<rect x="132.66" y="431.25" width="8.60" height="97.35" fill="#000" />
<line x1="136.96" y1="408.32" x2="136.96" y2="431.25" stroke="#7a7a7a" stroke-width="1.2" />
<line x1="135.66" y1="408.32" x2="138.26" y2="408.32" stroke="#222" stroke-width="1.3" />
<path d="M136.70,400.50 L137.29,402.08 L138.98,402.16 L137.66,403.21 L138.11,404.84 L136.70,403.91 L135.29,404.84 L135.74,403.21 L134.42,402.16 L136.11,402.08 Z" fill="#111"/>
<text x="29.00" y="423.60" font-size="12.4" font-weight="normal" fill="#000" text-anchor="middle" textLength="122.00" lengthAdjust="spacingAndGlyphs" transform="rotate(-90 29.00 423.60)" stroke="#000" stroke-width="0.35">MFI Fold Regulation</text>
<text x="22.80" y="542.70" font-size="7.7" font-weight="bold" fill="#000" textLength="34.60" lengthAdjust="spacingAndGlyphs" stroke="#000" stroke-width="0.12">AMD3100</text>
<line x1="74.00" y1="539.60" x2="76.80" y2="539.60" stroke="#000" stroke-width="1.25" />
<line x1="94.90" y1="539.60" x2="97.70" y2="539.60" stroke="#000" stroke-width="1.25" />
<line x1="113.40" y1="539.60" x2="117.80" y2="539.60" stroke="#000" stroke-width="1.25" />
<line x1="115.60" y1="537.00" x2="115.60" y2="542.20" stroke="#000" stroke-width="1.25" />
<line x1="135.90" y1="539.60" x2="138.70" y2="539.60" stroke="#000" stroke-width="1.25" />
<text x="22.80" y="551.40" font-size="7.7" font-weight="bold" fill="#000" textLength="28.40" lengthAdjust="spacingAndGlyphs" stroke="#000" stroke-width="0.12">CCX733</text>
<line x1="74.00" y1="549.10" x2="76.80" y2="549.10" stroke="#000" stroke-width="1.25" />
<line x1="94.90" y1="549.10" x2="97.70" y2="549.10" stroke="#000" stroke-width="1.25" />
<line x1="114.20" y1="549.10" x2="117.00" y2="549.10" stroke="#000" stroke-width="1.25" />
<line x1="135.10" y1="549.10" x2="139.50" y2="549.10" stroke="#000" stroke-width="1.25" />
<line x1="137.30" y1="546.50" x2="137.30" y2="551.70" stroke="#000" stroke-width="1.25" />
<text x="22.80" y="561.10" font-size="7.7" font-weight="bold" fill="#000" textLength="27.70" lengthAdjust="spacingAndGlyphs" stroke="#000" stroke-width="0.12">CXCL12</text>
<line x1="74.00" y1="558.80" x2="76.80" y2="558.80" stroke="#000" stroke-width="1.25" />
<line x1="94.10" y1="558.80" x2="98.50" y2="558.80" stroke="#000" stroke-width="1.25" />
<line x1="96.30" y1="556.20" x2="96.30" y2="561.40" stroke="#000" stroke-width="1.25" />
<line x1="114.20" y1="558.80" x2="117.00" y2="558.80" stroke="#000" stroke-width="1.25" />
<line x1="135.90" y1="558.80" x2="138.70" y2="558.80" stroke="#000" stroke-width="1.25" />
<text x="191.40" y="301.80" font-size="13.2" font-weight="bold" fill="#000" stroke="#000" stroke-width="0.3">D</text>
<text x="258.00" y="313.80" font-size="13.2" font-weight="normal" fill="#000" textLength="110.00" lengthAdjust="spacingAndGlyphs" stroke="#000" stroke-width="0.15">M-CSF secretion</text>
<line x1="244.20" y1="506.18" x2="383.80" y2="506.18" stroke="#c2c2c2" stroke-width="1.1" />
<line x1="244.20" y1="481.15" x2="383.80" y2="481.15" stroke="#c2c2c2" stroke-width="1.1" />
<line x1="244.20" y1="456.12" x2="383.80" y2="456.12" stroke="#c2c2c2" stroke-width="1.1" />
<line x1="244.20" y1="431.10" x2="383.80" y2="431.10" stroke="#c2c2c2" stroke-width="1.1" />
<line x1="244.20" y1="406.08" x2="383.80" y2="406.08" stroke="#c2c2c2" stroke-width="1.1" />
<line x1="244.20" y1="381.05" x2="383.80" y2="381.05" stroke="#c2c2c2" stroke-width="1.1" />
<line x1="244.20" y1="356.02" x2="383.80" y2="356.02" stroke="#c2c2c2" stroke-width="1.1" />
<line x1="244.20" y1="331.00" x2="383.80" y2="331.00" stroke="#333" stroke-width="1" />
<line x1="383.80" y1="331.00" x2="383.80" y2="531.20" stroke="#aaa" stroke-width="1" />
<line x1="244.20" y1="330.50" x2="244.20" y2="531.70" stroke="#a8a8a8" stroke-width="1" />
<line x1="244.20" y1="531.20" x2="383.80" y2="531.20" stroke="#999" stroke-width="1" />
<line x1="241.70" y1="531.20" x2="244.20" y2="531.20" stroke="#888" stroke-width="0.8" />
<text x="240.30" y="535.70" font-size="11.9" font-weight="bold" fill="#000" text-anchor="end" stroke="#000" stroke-width="0.2">0</text>
<line x1="241.70" y1="506.18" x2="244.20" y2="506.18" stroke="#888" stroke-width="0.8" />
<text x="240.30" y="510.68" font-size="11.9" font-weight="bold" fill="#000" text-anchor="end" stroke="#000" stroke-width="0.2">20</text>
<line x1="241.70" y1="481.15" x2="244.20" y2="481.15" stroke="#888" stroke-width="0.8" />
<text x="240.30" y="485.65" font-size="11.9" font-weight="bold" fill="#000" text-anchor="end" stroke="#000" stroke-width="0.2">40</text>
<line x1="241.70" y1="456.12" x2="244.20" y2="456.12" stroke="#888" stroke-width="0.8" />
<text x="240.30" y="460.62" font-size="11.9" font-weight="bold" fill="#000" text-anchor="end" stroke="#000" stroke-width="0.2">60</text>
<line x1="241.70" y1="431.10" x2="244.20" y2="431.10" stroke="#888" stroke-width="0.8" />
<text x="240.30" y="435.60" font-size="11.9" font-weight="bold" fill="#000" text-anchor="end" stroke="#000" stroke-width="0.2">80</text>
<line x1="241.70" y1="406.08" x2="244.20" y2="406.08" stroke="#888" stroke-width="0.8" />
<text x="240.30" y="410.58" font-size="11.9" font-weight="bold" fill="#000" text-anchor="end" stroke="#000" stroke-width="0.2">100</text>
<line x1="241.70" y1="381.05" x2="244.20" y2="381.05" stroke="#888" stroke-width="0.8" />
<text x="240.30" y="385.55" font-size="11.9" font-weight="bold" fill="#000" text-anchor="end" stroke="#000" stroke-width="0.2">120</text>
<line x1="241.70" y1="356.02" x2="244.20" y2="356.02" stroke="#888" stroke-width="0.8" />
<text x="240.30" y="360.52" font-size="11.9" font-weight="bold" fill="#000" text-anchor="end" stroke="#000" stroke-width="0.2">140</text>
<line x1="241.70" y1="331.00" x2="244.20" y2="331.00" stroke="#888" stroke-width="0.8" />
<text x="240.30" y="335.50" font-size="11.9" font-weight="bold" fill="#000" text-anchor="end" stroke="#000" stroke-width="0.2">160</text>
<line x1="244.20" y1="531.20" x2="244.20" y2="533.20" stroke="#888" stroke-width="0.8" />
<line x1="272.12" y1="531.20" x2="272.12" y2="533.20" stroke="#888" stroke-width="0.8" />
<line x1="300.04" y1="531.20" x2="300.04" y2="533.20" stroke="#888" stroke-width="0.8" />
<line x1="327.96" y1="531.20" x2="327.96" y2="533.20" stroke="#888" stroke-width="0.8" />
<line x1="355.88" y1="531.20" x2="355.88" y2="533.20" stroke="#888" stroke-width="0.8" />
<line x1="383.80" y1="531.20" x2="383.80" y2="533.20" stroke="#888" stroke-width="0.8" />
<rect x="252.46" y="449.12" width="11.40" height="82.08" fill="#000" />
<line x1="258.16" y1="437.36" x2="258.16" y2="449.12" stroke="#444" stroke-width="0.8" />
<line x1="256.66" y1="437.36" x2="259.66" y2="437.36" stroke="#333" stroke-width="0.8" />
<rect x="280.38" y="380.17" width="11.40" height="151.03" fill="#000" />
<line x1="286.08" y1="366.41" x2="286.08" y2="380.17" stroke="#444" stroke-width="0.8" />
<line x1="284.58" y1="366.41" x2="287.58" y2="366.41" stroke="#333" stroke-width="0.8" />
<rect x="308.30" y="364.78" width="11.40" height="166.42" fill="#000" />
<line x1="314.00" y1="349.39" x2="314.00" y2="364.78" stroke="#444" stroke-width="0.8" />
<line x1="312.50" y1="349.39" x2="315.50" y2="349.39" stroke="#333" stroke-width="0.8" />
<rect x="336.22" y="360.15" width="11.40" height="171.05" fill="#000" />
<line x1="341.92" y1="342.26" x2="341.92" y2="360.15" stroke="#444" stroke-width="0.8" />
<line x1="340.42" y1="342.26" x2="343.42" y2="342.26" stroke="#333" stroke-width="0.8" />
<rect x="364.14" y="422.34" width="11.40" height="108.86" fill="#000" />
<line x1="369.84" y1="409.83" x2="369.84" y2="422.34" stroke="#444" stroke-width="0.8" />
<line x1="368.34" y1="409.83" x2="371.34" y2="409.83" stroke="#333" stroke-width="0.8" />
<path d="M257.9,365 Q257.9,363.5 259.5,363.5 L284.5,363.5 Q286.1,363.5 286.1,365" fill="none" stroke="#222" stroke-width="1"/>
<circle cx="271.2" cy="359.2" r="1.1" fill="#111"/>
<text x="208.00" y="430.40" font-size="11.8" font-weight="bold" fill="#000" text-anchor="middle" textLength="40.20" lengthAdjust="spacingAndGlyphs" transform="rotate(-90 208.00 430.40)" stroke="#000" stroke-width="0.1">pg / ml</text>
<text x="209.80" y="545.00" font-size="7.7" font-weight="bold" fill="#000" textLength="34.60" lengthAdjust="spacingAndGlyphs" stroke="#000" stroke-width="0.12">AMD3100</text>
<line x1="256.20" y1="542.50" x2="259.00" y2="542.50" stroke="#000" stroke-width="1.25" />
<line x1="283.80" y1="542.50" x2="286.60" y2="542.50" stroke="#000" stroke-width="1.25" />
<line x1="311.10" y1="542.50" x2="315.50" y2="542.50" stroke="#000" stroke-width="1.25" />
<line x1="313.30" y1="539.90" x2="313.30" y2="545.10" stroke="#000" stroke-width="1.25" />
<line x1="339.50" y1="542.50" x2="342.30" y2="542.50" stroke="#000" stroke-width="1.25" />
<line x1="369.20" y1="542.50" x2="373.60" y2="542.50" stroke="#000" stroke-width="1.25" />
<line x1="371.40" y1="539.90" x2="371.40" y2="545.10" stroke="#000" stroke-width="1.25" />
<text x="209.80" y="553.60" font-size="7.7" font-weight="bold" fill="#000" textLength="28.40" lengthAdjust="spacingAndGlyphs" stroke="#000" stroke-width="0.12">CCX733</text>
<line x1="256.20" y1="551.90" x2="259.00" y2="551.90" stroke="#000" stroke-width="1.25" />
<line x1="283.80" y1="551.90" x2="286.60" y2="551.90" stroke="#000" stroke-width="1.25" />
<line x1="311.90" y1="551.90" x2="314.70" y2="551.90" stroke="#000" stroke-width="1.25" />
<line x1="338.70" y1="551.90" x2="343.10" y2="551.90" stroke="#000" stroke-width="1.25" />
<line x1="340.90" y1="549.30" x2="340.90" y2="554.50" stroke="#000" stroke-width="1.25" />
<line x1="369.20" y1="551.90" x2="373.60" y2="551.90" stroke="#000" stroke-width="1.25" />
<line x1="371.40" y1="549.30" x2="371.40" y2="554.50" stroke="#000" stroke-width="1.25" />
<text x="209.80" y="563.20" font-size="7.7" font-weight="bold" fill="#000" textLength="27.70" lengthAdjust="spacingAndGlyphs" stroke="#000" stroke-width="0.12">CXCL12</text>
<line x1="256.20" y1="561.00" x2="259.00" y2="561.00" stroke="#000" stroke-width="1.25" />
<line x1="283.00" y1="561.00" x2="287.40" y2="561.00" stroke="#000" stroke-width="1.25" />
<line x1="285.20" y1="558.40" x2="285.20" y2="563.60" stroke="#000" stroke-width="1.25" />
<line x1="311.10" y1="561.00" x2="315.50" y2="561.00" stroke="#000" stroke-width="1.25" />
<line x1="313.30" y1="558.40" x2="313.30" y2="563.60" stroke="#000" stroke-width="1.25" />
<line x1="338.70" y1="561.00" x2="343.10" y2="561.00" stroke="#000" stroke-width="1.25" />
<line x1="340.90" y1="558.40" x2="340.90" y2="563.60" stroke="#000" stroke-width="1.25" />
<line x1="369.20" y1="561.00" x2="373.60" y2="561.00" stroke="#000" stroke-width="1.25" />
<line x1="371.40" y1="558.40" x2="371.40" y2="563.60" stroke="#000" stroke-width="1.25" />
<text x="412.90" y="301.90" font-size="13.2" font-weight="bold" fill="#000" stroke="#000" stroke-width="0.3">E</text>
<path d="M443.50,377.00 L444.50,373.00 L445.50,367.00 L446.80,361.00 L448.00,347.00 L448.60,322.00 L449.00,295.00 L449.70,295.00 L450.10,322.00 L450.60,352.00 L451.20,367.00 L452.20,374.00 L453.50,377.00" fill="none" stroke="#888" stroke-width="0.8" stroke-dasharray="1.3,0.9"/>
<path d="M446.50,377.00 L448.00,371.00 L449.80,359.00 L451.00,337.00 L451.70,312.00 L452.10,295.00 L452.80,295.00 L453.20,322.00 L453.70,349.00 L454.60,368.00 L456.00,377.00" fill="none" stroke="#888" stroke-width="0.8" stroke-dasharray="1.3,0.9"/>
<clipPath id="cl101"><path d="M450.00,377.00 L450.50,372.18 L451.00,374.33 L451.50,371.83 L452.00,367.50 L452.50,356.21 L453.00,354.50 L453.50,341.46 L454.00,339.50 L454.50,329.20 L455.00,325.50 L455.50,315.02 L456.05,313.25 L456.60,306.21 L457.50,313.00 L458.20,297.67 L458.90,296.00 L459.60,305.27 L460.30,322.00 L461.20,318.85 L461.70,327.00 L462.20,329.73 L462.70,333.00 L463.20,329.17 L463.75,338.50 L464.30,341.58 L464.95,339.80 L465.60,336.44 L466.40,347.00 L467.10,349.77 L467.70,349.65 L468.30,344.38 L468.90,346.50 L469.50,341.80 L470.30,355.00 L471.10,353.87 L471.90,361.00 L472.70,362.64 L473.50,367.00 L474.30,365.58 L475.20,373.00 L475.85,371.58 L476.50,375.00 L477.00,374.42 L477.50,376.33 L478.00,374.42 L478.00,377.00 L450.00,377.00 Z"/></clipPath>
<path d="M450.00,377.00 L450.50,372.18 L451.00,374.33 L451.50,371.83 L452.00,367.50 L452.50,356.21 L453.00,354.50 L453.50,341.46 L454.00,339.50 L454.50,329.20 L455.00,325.50 L455.50,315.02 L456.05,313.25 L456.60,306.21 L457.50,313.00 L458.20,297.67 L458.90,296.00 L459.60,305.27 L460.30,322.00 L461.20,318.85 L461.70,327.00 L462.20,329.73 L462.70,333.00 L463.20,329.17 L463.75,338.50 L464.30,341.58 L464.95,339.80 L465.60,336.44 L466.40,347.00 L467.10,349.77 L467.70,349.65 L468.30,344.38 L468.90,346.50 L469.50,341.80 L470.30,355.00 L471.10,353.87 L471.90,361.00 L472.70,362.64 L473.50,367.00 L474.30,365.58 L475.20,373.00 L475.85,371.58 L476.50,375.00 L477.00,374.42 L477.50,376.33 L478.00,374.42 L478.00,377.00 L450.00,377.00 Z" fill="#8a8a8a"/>
<g clip-path="url(#cl101)"><line x1="452.42" y1="332.54" x2="452.46" y2="377.00" stroke="#555" stroke-width="0.72"/><line x1="467.88" y1="303.96" x2="467.84" y2="377.00" stroke="#555" stroke-width="0.65"/><line x1="467.23" y1="302.88" x2="467.80" y2="377.00" stroke="#222" stroke-width="0.54"/><line x1="468.43" y1="315.46" x2="468.61" y2="377.00" stroke="#222" stroke-width="0.88"/><line x1="462.66" y1="322.19" x2="462.40" y2="377.00" stroke="#222" stroke-width="0.68"/><line x1="462.66" y1="301.79" x2="462.64" y2="377.00" stroke="#222" stroke-width="0.61"/><line x1="461.26" y1="296.65" x2="461.41" y2="377.00" stroke="#444" stroke-width="0.84"/><line x1="460.07" y1="320.66" x2="459.81" y2="377.00" stroke="#333" stroke-width="0.70"/><line x1="471.45" y1="317.40" x2="471.04" y2="377.00" stroke="#222" stroke-width="0.60"/><line x1="474.14" y1="334.03" x2="473.78" y2="377.00" stroke="#444" stroke-width="0.67"/><line x1="474.09" y1="341.21" x2="474.30" y2="377.00" stroke="#222" stroke-width="0.67"/><line x1="470.78" y1="299.03" x2="470.75" y2="377.00" stroke="#333" stroke-width="0.70"/><line x1="458.78" y1="343.64" x2="459.17" y2="377.00" stroke="#444" stroke-width="0.42"/><line x1="469.79" y1="318.55" x2="469.45" y2="377.00" stroke="#555" stroke-width="0.70"/></g>
<path d="M450.00,377.00 L450.50,372.18 L451.00,374.33 L451.50,371.83 L452.00,367.50 L452.50,356.21 L453.00,354.50 L453.50,341.46 L454.00,339.50 L454.50,329.20 L455.00,325.50 L455.50,315.02 L456.05,313.25 L456.60,306.21 L457.50,313.00 L458.20,297.67 L458.90,296.00 L459.60,305.27 L460.30,322.00 L461.20,318.85 L461.70,327.00 L462.20,329.73 L462.70,333.00 L463.20,329.17 L463.75,338.50 L464.30,341.58 L464.95,339.80 L465.60,336.44 L466.40,347.00 L467.10,349.77 L467.70,349.65 L468.30,344.38 L468.90,346.50 L469.50,341.80 L470.30,355.00 L471.10,353.87 L471.90,361.00 L472.70,362.64 L473.50,367.00 L474.30,365.58 L475.20,373.00 L475.85,371.58 L476.50,375.00 L477.00,374.42 L477.50,376.33 L478.00,374.42 L478.00,377.00 L450.00,377.00 Z" fill="none" stroke="#1a1a1a" stroke-width="0.7"/>
<path d="M471.00,377.00 L471.50,376.11 L472.00,375.67 L472.50,374.08 L473.10,373.67 L473.70,372.08 L474.30,371.00 L474.87,368.60 L475.43,368.33 L476.00,366.09 L476.50,366.00 L477.00,364.42 L477.50,364.00 L478.00,360.74 L478.50,359.33 L479.00,356.15 L479.60,353.00 L480.20,348.94 L480.70,343.00 L481.20,336.20 L482.00,329.00 L482.70,324.07 L483.40,330.00 L484.20,330.22 L485.00,325.00 L485.60,313.68 L486.00,302.00 L486.30,293.90 L486.70,307.00 L487.20,321.43 L487.80,329.00 L488.60,334.66 L489.40,341.00 L489.95,343.81 L490.50,347.00 L491.10,348.28 L491.70,352.00 L492.30,353.47 L492.90,357.00 L493.50,358.29 L494.10,361.40 L494.70,363.54 L495.30,367.00 L495.90,368.25 L496.50,371.00 L497.00,372.67 L497.50,375.00 L498.00,375.20 L498.50,377.00" fill="none" stroke="#2a2a2a" stroke-width="1.3"/>
<line x1="438.40" y1="295.00" x2="438.40" y2="377.00" stroke="#999" stroke-width="0.8" />
<line x1="436.90" y1="295.00" x2="438.40" y2="295.00" stroke="#999" stroke-width="0.6" />
<line x1="436.90" y1="336.00" x2="438.40" y2="336.00" stroke="#bbb" stroke-width="0.6" />
<line x1="438.40" y1="377.00" x2="513.60" y2="377.00" stroke="#222" stroke-width="0.9" />
<line x1="438.40" y1="377.00" x2="438.40" y2="379.00" stroke="#222" stroke-width="0.7" />
<line x1="457.20" y1="377.00" x2="457.20" y2="379.00" stroke="#222" stroke-width="0.7" />
<line x1="476.00" y1="377.00" x2="476.00" y2="379.00" stroke="#222" stroke-width="0.7" />
<line x1="494.80" y1="377.00" x2="494.80" y2="379.00" stroke="#222" stroke-width="0.7" />
<line x1="513.60" y1="377.00" x2="513.60" y2="379.00" stroke="#222" stroke-width="0.7" />
<text x="429.40" y="335.90" font-size="11.4" font-weight="bold" fill="#000" text-anchor="middle" textLength="27.30" lengthAdjust="spacingAndGlyphs" transform="rotate(-90 429.40 335.90)" stroke="#000" stroke-width="0.1">CD14</text>
<text x="460.70" y="319.80" font-size="5.2" font-weight="bold" fill="#000" textLength="23.20" lengthAdjust="spacingAndGlyphs" stroke="#000" stroke-width="0.2">CONTROL</text>
<line x1="466.50" y1="320.50" x2="461.50" y2="326.00" stroke="#222" stroke-width="0.7" />
<text x="496.10" y="357.70" font-size="5.2" font-weight="bold" fill="#000" textLength="18.50" lengthAdjust="spacingAndGlyphs" stroke="#000" stroke-width="0.2">CXCL12</text>
<line x1="499.50" y1="358.10" x2="495.10" y2="363.20" stroke="#222" stroke-width="0.7" />
<path d="M444.00,466.70 L445.50,458.70 L446.50,441.70 L447.50,421.70 L448.50,404.70 L449.50,394.70 L450.30,393.70 L451.00,406.70 L451.80,421.70 L452.50,428.70 L453.30,441.70 L454.20,454.70 L455.50,463.70 L457.00,466.70" fill="none" stroke="#888" stroke-width="0.8" stroke-dasharray="1.3,0.9"/>
<clipPath id="cl201"><path d="M446.00,466.70 L446.75,463.43 L447.50,460.70 L448.20,448.40 L449.50,436.70 L450.50,426.69 L451.20,419.70 L452.30,413.57 L453.50,418.70 L454.60,401.69 L455.70,392.70 L456.40,405.92 L457.20,402.70 L458.00,414.82 L459.00,422.70 L459.80,423.69 L460.50,441.70 L461.00,447.90 L462.00,456.70 L463.00,457.24 L464.00,461.70 L465.00,461.26 L466.00,464.70 L467.00,465.14 L468.00,466.70 L468.00,466.70 L446.00,466.70 Z"/></clipPath>
<path d="M446.00,466.70 L446.75,463.43 L447.50,460.70 L448.20,448.40 L449.50,436.70 L450.50,426.69 L451.20,419.70 L452.30,413.57 L453.50,418.70 L454.60,401.69 L455.70,392.70 L456.40,405.92 L457.20,402.70 L458.00,414.82 L459.00,422.70 L459.80,423.69 L460.50,441.70 L461.00,447.90 L462.00,456.70 L463.00,457.24 L464.00,461.70 L465.00,461.26 L466.00,464.70 L467.00,465.14 L468.00,466.70 L468.00,466.70 L446.00,466.70 Z" fill="#8a8a8a"/>
<g clip-path="url(#cl201)"><line x1="449.43" y1="416.82" x2="449.48" y2="466.70" stroke="#444" stroke-width="0.63"/><line x1="449.40" y1="434.46" x2="449.67" y2="466.70" stroke="#444" stroke-width="0.55"/><line x1="463.34" y1="436.11" x2="463.18" y2="466.70" stroke="#444" stroke-width="0.85"/><line x1="456.95" y1="418.39" x2="457.14" y2="466.70" stroke="#444" stroke-width="0.81"/><line x1="453.96" y1="393.90" x2="453.77" y2="466.70" stroke="#555" stroke-width="0.47"/><line x1="453.94" y1="451.88" x2="454.43" y2="466.70" stroke="#555" stroke-width="0.68"/><line x1="452.16" y1="425.29" x2="451.97" y2="466.70" stroke="#555" stroke-width="0.85"/><line x1="459.31" y1="393.65" x2="458.76" y2="466.70" stroke="#333" stroke-width="0.45"/><line x1="450.46" y1="440.34" x2="450.19" y2="466.70" stroke="#222" stroke-width="0.85"/><line x1="462.01" y1="422.65" x2="462.48" y2="466.70" stroke="#555" stroke-width="0.78"/></g>
<path d="M446.00,466.70 L446.75,463.43 L447.50,460.70 L448.20,448.40 L449.50,436.70 L450.50,426.69 L451.20,419.70 L452.30,413.57 L453.50,418.70 L454.60,401.69 L455.70,392.70 L456.40,405.92 L457.20,402.70 L458.00,414.82 L459.00,422.70 L459.80,423.69 L460.50,441.70 L461.00,447.90 L462.00,456.70 L463.00,457.24 L464.00,461.70 L465.00,461.26 L466.00,464.70 L467.00,465.14 L468.00,466.70 L468.00,466.70 L446.00,466.70 Z" fill="none" stroke="#1a1a1a" stroke-width="0.7"/>
<path d="M458.50,466.70 L459.25,463.17 L460.00,462.70 L460.75,457.41 L461.50,454.70 L462.50,443.88 L463.30,431.70 L463.80,416.30 L464.30,401.70 L465.20,391.35 L466.20,390.70 L467.20,402.76 L468.20,396.70 L469.20,391.84 L470.00,406.70 L470.70,413.00 L471.50,422.70 L472.20,429.63 L473.20,441.70 L474.20,451.64 L475.20,460.70 L476.00,465.30 L477.00,466.70" fill="none" stroke="#2a2a2a" stroke-width="1.2"/>
<line x1="438.40" y1="386.50" x2="438.40" y2="466.70" stroke="#999" stroke-width="0.8" />
<line x1="436.90" y1="386.50" x2="438.40" y2="386.50" stroke="#999" stroke-width="0.6" />
<line x1="436.90" y1="426.60" x2="438.40" y2="426.60" stroke="#bbb" stroke-width="0.6" />
<line x1="438.40" y1="466.70" x2="513.60" y2="466.70" stroke="#222" stroke-width="0.9" />
<line x1="438.40" y1="466.70" x2="438.40" y2="468.70" stroke="#222" stroke-width="0.7" />
<line x1="457.20" y1="466.70" x2="457.20" y2="468.70" stroke="#222" stroke-width="0.7" />
<line x1="476.00" y1="466.70" x2="476.00" y2="468.70" stroke="#222" stroke-width="0.7" />
<line x1="494.80" y1="466.70" x2="494.80" y2="468.70" stroke="#222" stroke-width="0.7" />
<line x1="513.60" y1="466.70" x2="513.60" y2="468.70" stroke="#222" stroke-width="0.7" />
<text x="429.60" y="427.25" font-size="11.4" font-weight="bold" fill="#000" text-anchor="middle" textLength="21.70" lengthAdjust="spacingAndGlyphs" transform="rotate(-90 429.60 427.25)" stroke="#000" stroke-width="0">CD4</text>
<text x="441.40" y="390.70" font-size="5.2" font-weight="bold" fill="#000" textLength="24.20" lengthAdjust="spacingAndGlyphs" stroke="#000" stroke-width="0.2">CONTROL</text>
<line x1="461.90" y1="390.90" x2="456.80" y2="395.80" stroke="#222" stroke-width="0.7" />
<text x="478.10" y="447.40" font-size="5.2" font-weight="bold" fill="#000" textLength="18.80" lengthAdjust="spacingAndGlyphs" stroke="#000" stroke-width="0.2">CXCL12</text>
<line x1="480.40" y1="448.80" x2="475.70" y2="453.50" stroke="#222" stroke-width="0.7" />
<clipPath id="cl301"><path d="M441.30,557.60 L442.50,552.80 L443.50,549.60 L444.50,543.00 L445.30,532.60 L446.10,516.61 L446.90,506.60 L447.70,496.68 L448.50,490.60 L449.20,486.13 L450.00,490.60 L450.80,492.26 L451.60,495.60 L452.40,498.09 L453.20,505.60 L454.00,511.66 L454.80,522.60 L455.60,533.11 L456.40,544.60 L457.40,548.68 L458.50,554.60 L459.40,555.91 L460.30,557.60 L460.30,557.60 L441.30,557.60 Z"/></clipPath>
<path d="M441.30,557.60 L442.50,552.80 L443.50,549.60 L444.50,543.00 L445.30,532.60 L446.10,516.61 L446.90,506.60 L447.70,496.68 L448.50,490.60 L449.20,486.13 L450.00,490.60 L450.80,492.26 L451.60,495.60 L452.40,498.09 L453.20,505.60 L454.00,511.66 L454.80,522.60 L455.60,533.11 L456.40,544.60 L457.40,548.68 L458.50,554.60 L459.40,555.91 L460.30,557.60 L460.30,557.60 L441.30,557.60 Z" fill="#8a8a8a"/>
<g clip-path="url(#cl301)"><line x1="454.63" y1="510.17" x2="454.80" y2="557.60" stroke="#555" stroke-width="0.74"/><line x1="450.55" y1="542.23" x2="450.09" y2="557.60" stroke="#333" stroke-width="0.66"/><line x1="443.65" y1="509.77" x2="443.20" y2="557.60" stroke="#333" stroke-width="0.54"/><line x1="444.48" y1="535.24" x2="443.95" y2="557.60" stroke="#333" stroke-width="0.68"/><line x1="454.67" y1="541.59" x2="454.46" y2="557.60" stroke="#333" stroke-width="0.86"/><line x1="451.18" y1="510.29" x2="451.20" y2="557.60" stroke="#222" stroke-width="0.45"/><line x1="455.58" y1="524.86" x2="456.13" y2="557.60" stroke="#555" stroke-width="0.56"/><line x1="449.66" y1="538.51" x2="449.64" y2="557.60" stroke="#555" stroke-width="0.71"/></g>
<path d="M441.30,557.60 L442.50,552.80 L443.50,549.60 L444.50,543.00 L445.30,532.60 L446.10,516.61 L446.90,506.60 L447.70,496.68 L448.50,490.60 L449.20,486.13 L450.00,490.60 L450.80,492.26 L451.60,495.60 L452.40,498.09 L453.20,505.60 L454.00,511.66 L454.80,522.60 L455.60,533.11 L456.40,544.60 L457.40,548.68 L458.50,554.60 L459.40,555.91 L460.30,557.60 L460.30,557.60 L441.30,557.60 Z" fill="none" stroke="#1a1a1a" stroke-width="0.7"/>
<path d="M441.00,557.60 L443.00,547.60 L444.30,527.60 L445.20,507.60 L446.00,495.60 L446.80,491.60 L447.50,497.60 L448.30,517.60 L449.50,537.60 L451.00,549.60 L453.00,557.60" fill="none" stroke="#bbb" stroke-width="0.8" stroke-dasharray="1.3,0.9"/>
<path d="M455.00,557.60 L456.00,555.15 L457.00,555.60 L457.85,552.79 L458.70,551.60 L459.50,548.77 L460.30,547.60 L461.10,544.89 L461.90,543.60 L462.70,538.32 L463.50,533.60 L464.25,529.54 L465.00,525.60 L466.00,517.00 L466.60,511.60 L467.40,512.84 L468.20,517.60 L469.00,504.44 L469.60,499.60 L470.40,507.09 L471.40,521.60 L472.20,518.15 L473.00,516.60 L474.00,525.43 L475.30,535.60 L476.50,540.61 L477.70,547.60 L479.00,551.56 L479.95,553.10 L480.90,554.27 L481.70,555.60 L482.50,556.41 L483.25,557.10 L484.00,556.13" fill="none" stroke="#555" stroke-width="1.4"/>
<line x1="438.40" y1="479.20" x2="438.40" y2="557.60" stroke="#999" stroke-width="0.8" />
<line x1="436.90" y1="479.20" x2="438.40" y2="479.20" stroke="#999" stroke-width="0.6" />
<line x1="436.90" y1="518.40" x2="438.40" y2="518.40" stroke="#bbb" stroke-width="0.6" />
<line x1="438.40" y1="557.60" x2="513.60" y2="557.60" stroke="#222" stroke-width="0.9" />
<line x1="438.40" y1="557.60" x2="438.40" y2="559.60" stroke="#222" stroke-width="0.7" />
<line x1="457.20" y1="557.60" x2="457.20" y2="559.60" stroke="#222" stroke-width="0.7" />
<line x1="476.00" y1="557.60" x2="476.00" y2="559.60" stroke="#222" stroke-width="0.7" />
<line x1="494.80" y1="557.60" x2="494.80" y2="559.60" stroke="#222" stroke-width="0.7" />
<line x1="513.60" y1="557.60" x2="513.60" y2="559.60" stroke="#222" stroke-width="0.7" />
<text x="428.90" y="517.05" font-size="11.4" font-weight="normal" fill="#000" text-anchor="middle" textLength="35.00" lengthAdjust="spacingAndGlyphs" transform="rotate(-90 428.90 517.05)" stroke="#000" stroke-width="0.5">CD163</text>
<text x="453.10" y="496.80" font-size="5.2" font-weight="bold" fill="#000" textLength="23.50" lengthAdjust="spacingAndGlyphs" stroke="#000" stroke-width="0.2">CONTROL</text>
<line x1="458.50" y1="498.10" x2="454.10" y2="502.80" stroke="#222" stroke-width="0.7" />
<text x="480.70" y="539.00" font-size="5.2" font-weight="bold" fill="#000" textLength="18.90" lengthAdjust="spacingAndGlyphs" stroke="#000" stroke-width="0.2">CXCL12</text>
<line x1="484.80" y1="540.10" x2="480.10" y2="544.50" stroke="#222" stroke-width="0.7" />
</svg></body></html>
